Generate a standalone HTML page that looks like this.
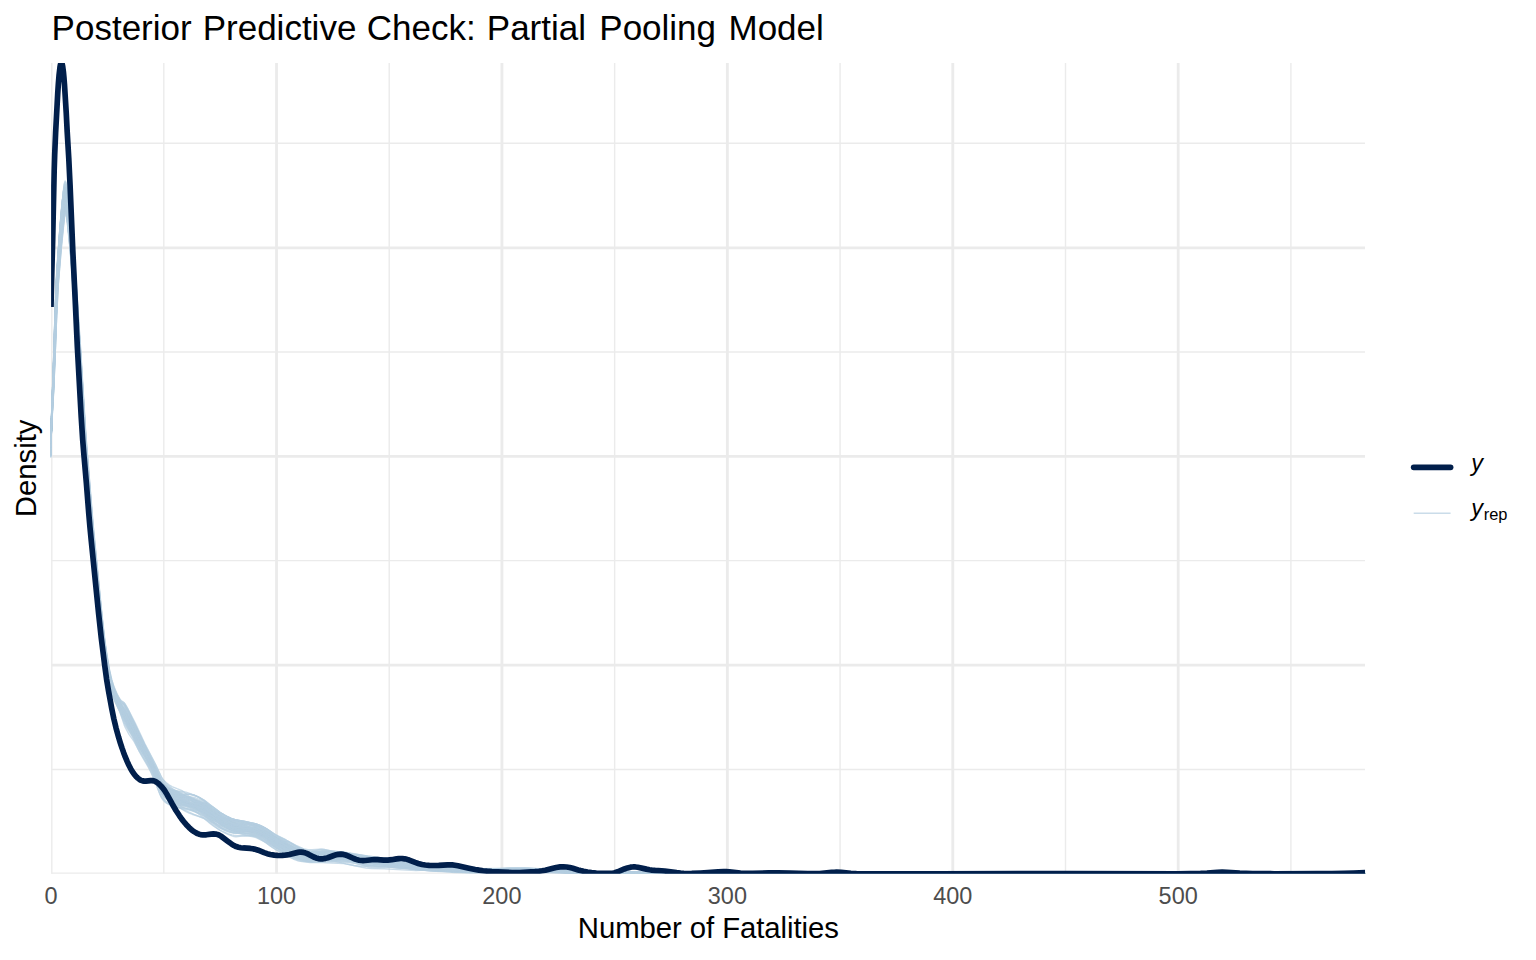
<!DOCTYPE html>
<html lang="en">
<head>
<meta charset="utf-8">
<title>Posterior Predictive Check: Partial Pooling Model</title>
<style>
html,body{margin:0;padding:0;background:#ffffff;}
body{width:1536px;height:960px;overflow:hidden;font-family:"Liberation Sans",sans-serif;}
svg{display:block;}
text{font-family:"Liberation Sans",sans-serif;}
</style>
</head>
<body>
<svg width="1536" height="960" viewBox="0 0 1536 960">
<defs>
<clipPath id="panel"><rect x="51.1" y="63.0" width="1314.0" height="810.8"/></clipPath>
<clipPath id="panelL"><rect x="50.0" y="63.0" width="1315.1" height="810.8"/></clipPath>
</defs>
<rect width="1536" height="960" fill="#ffffff"/>
<g clip-path="url(#panel)">
<g stroke="#ebebeb" fill="none">
<line x1="51.1" x2="1365.1" y1="769.50" y2="769.50" stroke-width="1.42"/>
<line x1="51.1" x2="1365.1" y1="560.60" y2="560.60" stroke-width="1.42"/>
<line x1="51.1" x2="1365.1" y1="352.00" y2="352.00" stroke-width="1.42"/>
<line x1="51.1" x2="1365.1" y1="143.30" y2="143.30" stroke-width="1.42"/>
<line y1="63.0" y2="873.8" x1="163.81" x2="163.81" stroke-width="1.42"/>
<line y1="63.0" y2="873.8" x1="389.23" x2="389.23" stroke-width="1.42"/>
<line y1="63.0" y2="873.8" x1="614.65" x2="614.65" stroke-width="1.42"/>
<line y1="63.0" y2="873.8" x1="840.07" x2="840.07" stroke-width="1.42"/>
<line y1="63.0" y2="873.8" x1="1065.49" x2="1065.49" stroke-width="1.42"/>
<line y1="63.0" y2="873.8" x1="1290.91" x2="1290.91" stroke-width="1.42"/>
<line x1="51.1" x2="1365.1" y1="873.80" y2="873.80" stroke-width="2.84"/>
<line x1="51.1" x2="1365.1" y1="665.20" y2="665.20" stroke-width="2.84"/>
<line x1="51.1" x2="1365.1" y1="456.30" y2="456.30" stroke-width="2.84"/>
<line x1="51.1" x2="1365.1" y1="247.80" y2="247.80" stroke-width="2.84"/>
<line y1="63.0" y2="873.8" x1="51.10" x2="51.10" stroke-width="2.84"/>
<line y1="63.0" y2="873.8" x1="276.52" x2="276.52" stroke-width="2.84"/>
<line y1="63.0" y2="873.8" x1="501.94" x2="501.94" stroke-width="2.84"/>
<line y1="63.0" y2="873.8" x1="727.36" x2="727.36" stroke-width="2.84"/>
<line y1="63.0" y2="873.8" x1="952.78" x2="952.78" stroke-width="2.84"/>
<line y1="63.0" y2="873.8" x1="1178.20" x2="1178.20" stroke-width="2.84"/>
</g>
</g>
<g clip-path="url(#panelL)" fill="none" stroke="#b3cde0" stroke-opacity="0.7" stroke-width="1.42" stroke-linejoin="round">
<path d="M50.8,451.9L51.7,416.2L53.5,374.7L55.6,312.3L57.1,277.6L60.1,235.8L62.2,210.9L64.0,194.6L64.6,191.8L65.2,190.8L65.5,190.9L66.1,192.2L66.7,195.3L67.9,206.2L70.6,234.4L73.0,263.2L78.7,349.4L84.1,438.1L91.3,526.9L98.8,603.0L102.7,639.5L104.8,654.6L107.5,671.0L109.9,682.1L112.0,689.5L115.0,697.3L120.0,707.2L122.0,710.7L129.0,721.3L133.0,728.4L141.0,746.0L145.0,754.1L153.0,769.5L161.0,786.6L162.0,788.1L164.0,790.4L168.0,794.2L172.0,797.6L176.0,800.7L179.0,802.7L182.0,804.2L184.0,805.0L186.0,805.5L193.0,806.1L196.0,806.6L199.0,807.6L202.0,809.1L204.0,810.4L206.0,812.1L212.0,817.9L214.0,819.6L218.0,822.4L222.0,824.3L238.0,828.6L248.0,831.7L256.0,832.9L260.0,833.8L264.0,835.2L266.0,836.2L270.0,838.9L278.0,845.6L284.0,849.7L290.0,853.1L296.0,855.3L308.0,858.9L312.0,859.7L314.0,859.9L318.0,859.8L330.0,858.4L334.0,858.1L338.0,858.2L342.0,858.7L352.0,860.9L356.0,861.4L360.0,861.6L366.0,861.5L370.0,861.6L374.0,862.0L384.0,863.6L388.0,863.9L400.0,863.4L404.0,863.5L408.0,864.1L418.0,866.4L422.0,867.0L438.0,867.6L454.0,869.2L470.0,869.4L482.0,870.2L488.0,870.4L494.0,870.3L504.0,869.5L508.0,869.5L522.0,870.2L538.0,870.5L556.0,871.9L574.0,872.1L592.0,872.9L612.0,872.9L624.0,873.1L636.0,873.0L660.0,873.4L672.0,873.3L696.0,873.5L708.0,873.4L756.0,873.6L840.0,873.3L1104.0,873.8L1236.0,873.7L1284.0,873.5L1365.4,873.7"/>
<path d="M50.8,451.3L51.7,415.1L53.8,360.0L55.6,303.7L56.8,276.7L59.5,238.6L61.6,213.2L63.4,196.7L64.0,194.0L64.6,192.9L64.9,193.0L65.5,194.3L65.8,195.5L67.3,208.2L69.7,232.6L72.1,260.4L78.1,349.2L83.5,437.2L89.5,511.7L91.3,531.8L100.0,618.8L102.7,642.2L105.4,660.2L107.5,672.1L110.2,683.6L113.0,692.1L115.0,697.0L120.0,707.6L133.0,732.9L139.0,745.5L142.0,750.9L152.0,767.9L155.0,773.6L160.0,783.9L161.0,785.6L162.0,786.8L164.0,788.8L167.0,791.1L171.0,793.9L183.0,801.2L187.0,803.1L198.0,807.2L202.0,808.8L206.0,811.1L214.0,816.3L222.0,820.5L232.0,824.9L248.0,831.4L258.0,834.4L266.0,837.3L276.0,842.2L286.0,845.8L298.0,850.8L308.0,854.7L312.0,855.7L316.0,856.1L330.0,856.2L338.0,855.9L344.0,856.2L348.0,856.8L354.0,857.9L372.0,862.5L380.0,864.1L386.0,864.6L390.0,864.6L402.0,863.2L408.0,863.1L416.0,864.2L436.0,867.8L444.0,868.9L450.0,869.4L456.0,869.7L470.0,869.7L488.0,870.5L496.0,870.7L516.0,870.0L528.0,869.4L534.0,869.4L544.0,869.9L556.0,871.3L564.0,871.9L584.0,872.6L624.0,873.2L648.0,872.9L672.0,872.9L696.0,873.4L720.0,873.2L756.0,873.4L780.0,873.2L828.0,873.5L852.0,873.3L876.0,873.5L912.0,873.3L936.0,873.6L1032.0,873.5L1068.0,873.8L1092.0,873.6L1188.0,873.7L1224.0,873.5L1308.0,873.7L1344.0,873.5L1365.4,873.6"/>
<path d="M50.8,449.7L51.7,413.0L53.8,357.9L55.6,301.4L56.8,273.8L59.8,231.0L61.9,205.8L63.7,189.5L64.6,186.9L64.9,186.8L65.2,187.2L65.8,188.9L66.1,190.6L67.6,204.5L70.3,233.5L72.4,258.8L78.1,344.6L83.5,433.6L91.0,526.6L98.5,602.9L102.4,639.2L104.5,653.9L107.2,670.1L109.6,681.0L112.0,688.9L115.0,696.2L120.0,705.7L121.0,707.1L125.0,711.8L131.0,721.8L143.0,746.4L154.0,767.0L161.0,781.0L163.0,783.5L167.0,787.2L170.0,789.7L174.0,792.4L178.0,794.8L181.0,796.3L185.0,797.7L192.0,799.4L196.0,800.6L199.0,801.8L202.0,803.3L206.0,806.2L212.0,811.3L214.0,812.8L218.0,815.4L222.0,817.6L230.0,820.8L234.0,822.2L246.0,825.4L258.0,827.5L264.0,829.6L268.0,831.7L278.0,838.8L290.0,845.4L298.0,849.1L308.0,853.0L310.0,853.6L314.0,854.0L324.0,853.5L338.0,854.3L342.0,854.8L350.0,856.2L358.0,857.4L368.0,858.4L382.0,860.4L388.0,860.8L400.0,860.8L404.0,861.1L408.0,861.8L418.0,864.3L424.0,865.4L436.0,866.9L452.0,868.4L468.0,868.8L478.0,869.4L486.0,869.7L494.0,869.5L508.0,868.8L530.0,869.0L540.0,869.6L558.0,871.1L590.0,872.1L624.0,872.5L636.0,872.4L684.0,872.9L792.0,873.2L1365.4,873.6"/>
<path d="M50.8,454.7L51.4,427.8L53.5,379.1L55.6,317.6L57.1,283.8L60.1,243.7L62.2,220.5L64.3,204.2L64.6,203.3L65.2,202.5L65.5,202.5L65.8,203.0L66.4,204.6L66.7,206.1L68.8,224.3L70.9,245.2L73.0,269.1L79.0,356.3L84.4,442.6L91.9,533.0L99.4,607.7L103.3,643.1L105.4,657.5L108.1,673.2L110.5,683.7L113.0,691.9L116.0,699.2L124.0,715.9L134.0,734.5L140.0,746.9L152.0,766.8L156.0,774.7L161.0,785.7L163.0,788.8L166.0,791.9L170.0,795.1L175.0,798.0L180.0,800.0L190.0,803.5L193.0,804.8L196.0,806.5L200.0,809.0L204.0,811.8L212.0,818.3L218.0,821.9L222.0,823.9L232.0,828.7L238.0,831.0L246.0,833.4L254.0,835.0L258.0,836.3L262.0,838.3L266.0,840.7L274.0,846.6L278.0,848.9L298.0,857.8L306.0,860.9L310.0,861.9L312.0,862.2L328.0,861.6L344.0,862.3L356.0,863.3L366.0,864.7L374.0,866.1L378.0,866.5L386.0,866.8L398.0,866.6L404.0,866.8L426.0,868.5L442.0,870.6L448.0,871.2L454.0,871.4L466.0,871.5L480.0,871.9L504.0,871.4L516.0,871.3L528.0,870.8L532.0,870.7L554.0,871.8L582.0,872.8L636.0,873.1L696.0,873.8L984.0,873.6L1128.0,873.9L1365.4,873.8"/>
<path d="M50.8,454.7L51.4,427.9L53.5,383.5L55.9,316.5L57.4,283.9L60.4,244.9L62.5,222.1L64.6,205.5L65.2,203.5L65.8,202.7L66.1,202.9L66.7,204.2L67.3,207.3L69.1,222.7L71.5,246.6L73.6,270.8L79.3,354.0L84.7,441.0L91.0,519.1L92.5,535.8L99.7,608.2L103.6,643.9L105.7,658.4L108.4,674.1L110.8,684.7L113.0,691.9L116.0,699.3L124.0,715.4L134.0,733.0L139.0,743.4L141.0,747.1L150.0,762.4L153.0,768.1L156.0,774.4L161.0,786.3L162.0,788.2L165.0,792.4L168.0,795.6L170.0,797.4L174.0,800.4L178.0,802.4L183.0,804.1L191.0,806.1L196.0,808.2L202.0,811.8L210.0,817.9L214.0,820.6L220.0,823.7L232.0,828.6L236.0,829.8L240.0,830.6L246.0,831.2L252.0,831.2L256.0,831.5L260.0,832.7L262.0,833.6L266.0,835.8L274.0,841.8L278.0,844.4L298.0,854.5L306.0,857.8L310.0,858.7L312.0,858.8L314.0,858.7L324.0,857.5L330.0,857.7L348.0,859.6L358.0,860.5L366.0,861.5L378.0,863.5L396.0,864.4L402.0,865.3L412.0,867.5L416.0,868.1L440.0,870.6L448.0,871.1L466.0,871.2L478.0,871.8L486.0,871.7L504.0,870.9L516.0,871.0L528.0,870.8L550.0,872.2L568.0,872.4L582.0,872.8L612.0,873.1L636.0,873.0L648.0,873.2L684.0,873.5L732.0,873.3L888.0,873.8L972.0,873.6L1365.4,873.9"/>
<path d="M50.8,452.2L51.4,424.8L53.8,358.7L55.3,309.8L56.5,280.8L59.2,241.3L61.3,215.4L63.1,198.7L63.7,195.9L64.3,194.9L64.6,195.0L65.5,197.5L67.0,210.4L69.4,235.0L71.8,263.2L77.5,348.9L83.2,443.0L90.4,532.7L97.6,605.7L101.5,641.6L103.6,656.2L106.3,671.9L108.7,682.3L110.8,689.2L114.0,696.8L119.0,705.9L121.0,709.1L125.0,714.2L129.0,720.9L132.0,726.4L139.0,741.2L149.0,760.5L152.0,766.6L155.0,773.2L160.0,785.0L162.0,788.3L165.0,791.5L168.0,793.6L171.0,795.0L174.0,795.9L181.0,797.2L185.0,798.2L188.0,799.2L191.0,800.5L195.0,802.9L200.0,806.3L204.0,809.3L210.0,814.4L214.0,817.4L220.0,820.9L224.0,822.6L228.0,823.8L232.0,824.5L236.0,824.4L244.0,823.5L248.0,823.4L252.0,823.8L256.0,825.0L258.0,825.9L262.0,828.5L266.0,831.5L274.0,838.5L278.0,841.4L290.0,847.9L296.0,850.8L300.0,852.2L306.0,853.7L310.0,854.2L318.0,854.0L322.0,854.2L324.0,854.6L332.0,856.7L338.0,857.6L344.0,857.9L356.0,857.8L364.0,858.0L376.0,859.0L386.0,860.7L402.0,864.9L410.0,866.3L426.0,867.4L440.0,868.9L452.0,870.0L462.0,870.7L470.0,871.0L478.0,871.0L494.0,869.9L504.0,869.8L538.0,871.4L560.0,871.5L578.0,872.3L586.0,872.5L624.0,872.3L648.0,873.0L660.0,873.1L684.0,872.9L708.0,873.1L744.0,873.0L780.0,873.5L804.0,873.3L864.0,873.4L900.0,873.7L936.0,873.4L1020.0,873.7L1056.0,873.4L1092.0,873.6L1152.0,873.7L1176.0,873.4L1212.0,873.7L1308.0,873.6L1332.0,873.8L1365.4,873.7"/>
<path d="M50.8,451.8L51.1,434.6L51.7,417.1L52.9,398.2L53.8,380.0L56.5,308.9L58.0,277.7L61.0,239.4L63.4,213.0L65.5,195.4L66.1,193.0L66.7,192.2L67.0,192.4L67.6,193.7L68.2,196.6L69.4,207.3L72.1,234.5L74.5,262.5L80.5,352.5L85.9,441.4L93.4,534.1L100.6,606.7L104.5,642.5L106.6,657.0L109.3,672.8L111.7,683.4L114.0,691.0L117.0,698.3L134.0,732.9L141.0,748.9L152.0,769.9L156.0,779.1L161.0,791.8L162.0,793.8L163.0,795.3L165.0,797.6L168.0,799.8L170.0,800.8L172.0,801.5L175.0,802.1L181.0,802.7L185.0,803.3L189.0,804.5L192.0,805.9L196.0,808.6L200.0,811.8L204.0,815.3L212.0,822.9L218.0,826.9L222.0,828.8L228.0,830.7L232.0,831.5L236.0,831.6L244.0,831.0L248.0,831.0L252.0,831.3L256.0,832.3L258.0,833.2L262.0,835.7L266.0,838.7L274.0,845.4L276.0,846.8L280.0,848.8L290.0,852.5L298.0,854.6L308.0,856.2L312.0,856.4L318.0,856.3L322.0,856.6L334.0,859.8L340.0,860.7L348.0,861.2L364.0,860.9L372.0,861.3L384.0,862.7L398.0,865.1L404.0,865.9L410.0,866.3L422.0,866.1L428.0,866.3L452.0,869.8L464.0,870.9L470.0,871.3L476.0,871.4L494.0,870.2L504.0,870.1L520.0,871.0L538.0,871.6L560.0,872.0L578.0,873.3L586.0,873.6L596.0,873.6L624.0,873.1L648.0,873.6L684.0,873.3L708.0,873.7L744.0,873.3L780.0,873.6L804.0,873.3L840.0,873.6L864.0,873.3L900.0,873.6L936.0,873.5L960.0,873.8L996.0,873.6L1020.0,873.9L1056.0,873.7L1092.0,873.9L1116.0,873.7L1152.0,873.9L1176.0,873.7L1212.0,873.8L1236.0,873.6L1272.0,873.8L1308.0,873.6L1332.0,873.8L1365.4,873.7"/>
<path d="M50.8,453.6L51.4,426.5L53.8,369.8L55.9,308.2L57.1,282.1L60.1,241.7L62.5,214.8L64.3,199.9L65.2,197.3L65.5,197.1L66.1,197.8L66.7,199.8L67.0,201.8L69.1,220.1L71.5,244.3L73.3,265.1L79.0,348.4L84.7,440.4L92.2,531.7L99.4,603.8L102.1,629.5L103.6,642.0L105.7,656.3L108.4,672.0L110.8,682.5L113.0,689.7L116.0,697.3L121.0,707.6L128.0,721.3L134.0,732.2L140.0,744.6L151.0,765.4L155.0,774.2L161.0,789.2L163.0,792.4L166.0,795.6L169.0,797.8L173.0,799.9L199.0,810.3L204.0,812.6L208.0,815.1L220.0,823.1L224.0,825.4L228.0,827.3L232.0,828.8L234.0,829.2L244.0,830.0L248.0,830.5L252.0,831.2L256.0,832.3L260.0,834.0L266.0,837.0L276.0,842.9L284.0,846.7L294.0,852.1L298.0,853.8L302.0,854.9L308.0,855.9L312.0,856.0L318.0,855.7L322.0,855.7L332.0,857.1L342.0,857.7L346.0,858.1L352.0,859.2L362.0,861.8L368.0,862.9L374.0,863.6L384.0,864.5L396.0,866.0L416.0,867.3L430.0,868.9L436.0,869.4L474.0,870.9L496.0,870.8L510.0,870.3L526.0,870.2L550.0,871.2L572.0,872.4L600.0,873.2L612.0,873.2L684.0,873.2L840.0,873.6L924.0,873.5L1080.0,873.7L1365.4,873.7"/>
<path d="M50.8,453.3L51.4,426.2L53.8,368.8L55.9,306.8L57.1,280.8L60.1,240.0L62.2,215.8L64.0,200.1L64.3,198.5L64.9,196.9L65.2,196.5L65.5,196.6L65.8,197.0L66.4,198.8L66.7,200.7L68.8,219.1L71.2,243.7L73.0,264.9L78.7,349.5L84.1,438.4L91.6,531.4L98.8,604.2L102.7,640.2L104.8,654.9L107.5,670.8L109.9,681.6L112.0,688.7L115.0,696.3L119.0,704.3L121.0,707.9L125.0,714.0L133.0,727.4L148.0,758.1L151.0,764.6L154.0,771.7L161.0,790.2L162.0,792.1L164.0,795.0L167.0,798.3L171.0,801.5L174.0,803.3L177.0,804.7L185.0,808.1L199.0,812.8L204.0,814.9L208.0,817.6L220.0,826.9L224.0,829.5L228.0,831.5L232.0,832.8L234.0,833.1L244.0,833.1L252.0,833.7L256.0,834.7L258.0,835.5L262.0,837.5L268.0,841.2L276.0,847.2L290.0,857.1L294.0,859.3L298.0,860.9L302.0,861.5L306.0,861.6L310.0,861.3L318.0,859.6L322.0,859.0L340.0,858.6L344.0,858.7L350.0,859.3L362.0,861.2L368.0,861.5L378.0,861.4L384.0,861.9L404.0,865.4L422.0,867.8L430.0,868.5L450.0,868.6L468.0,869.9L478.0,870.3L496.0,870.3L508.0,869.8L514.0,869.9L524.0,870.3L540.0,871.5L578.0,872.2L600.0,873.2L612.0,873.3L660.0,873.8L696.0,873.5L732.0,873.7L780.0,873.6L816.0,873.3L864.0,873.5L936.0,873.4L972.0,873.7L1092.0,873.9L1188.0,873.7L1224.0,873.8L1260.0,873.6L1344.0,873.8L1365.4,873.7"/>
<path d="M50.8,454.8L51.4,428.1L53.8,381.1L56.2,316.3L57.7,285.4L60.7,248.1L62.8,226.2L65.2,208.0L66.1,205.8L66.4,205.6L66.7,205.9L67.3,207.3L67.6,208.6L69.7,225.7L72.1,249.5L74.2,273.7L79.9,356.7L85.3,443.2L91.6,519.9L93.1,536.3L101.8,620.9L104.5,644.0L106.9,659.9L109.3,673.5L111.7,683.9L114.0,691.3L117.0,698.7L124.0,713.2L135.0,733.2L141.0,746.0L151.0,765.3L156.0,776.6L162.0,791.7L163.0,793.3L165.0,795.9L168.0,798.9L171.0,801.5L176.0,805.2L183.0,809.9L186.0,811.7L189.0,813.1L192.0,814.2L204.0,818.0L212.0,822.1L218.0,824.7L222.0,826.0L228.0,827.2L232.0,827.7L240.0,827.9L244.0,828.5L250.0,830.1L256.0,832.1L260.0,834.0L266.0,837.4L276.0,844.6L290.0,853.7L296.0,857.1L300.0,858.7L308.0,860.9L310.0,861.2L314.0,861.5L326.0,861.1L342.0,859.2L346.0,859.1L350.0,859.4L354.0,859.8L372.0,863.0L388.0,866.5L394.0,867.6L398.0,868.0L412.0,869.0L428.0,870.6L436.0,870.9L454.0,871.0L470.0,870.5L482.0,870.5L564.0,872.9L600.0,873.0L636.0,873.6L720.0,873.3L768.0,873.9L816.0,873.5L876.0,873.9L924.0,873.5L1008.0,873.9L1056.0,873.6L1116.0,873.9L1164.0,873.7L1200.0,873.9L1248.0,873.9L1284.0,873.7L1320.0,873.9L1365.4,873.8"/>
<path d="M50.8,452.1L51.7,416.9L53.5,378.1L55.9,309.3L57.4,276.7L60.4,235.8L62.8,208.0L64.6,192.7L64.9,191.6L65.5,190.4L65.8,190.5L66.1,190.9L66.7,192.7L67.0,194.7L68.8,211.0L71.2,236.0L73.3,261.3L79.0,348.4L84.4,438.7L90.4,515.0L91.9,532.0L100.3,616.1L103.3,642.4L106.0,660.4L108.1,672.3L110.5,682.8L113.0,690.9L116.0,698.4L122.0,710.7L126.0,717.7L134.0,730.1L142.0,745.7L151.0,764.0L161.0,786.4L162.0,787.8L164.0,789.8L167.0,791.7L174.0,794.9L177.0,796.5L185.0,801.8L189.0,804.2L193.0,806.0L200.0,808.3L204.0,810.0L206.0,811.3L208.0,812.9L220.0,824.3L222.0,825.9L226.0,828.1L230.0,829.3L232.0,829.6L240.0,829.4L244.0,829.8L248.0,830.7L254.0,832.5L266.0,836.7L270.0,838.3L278.0,842.6L284.0,846.2L290.0,850.4L294.0,852.4L296.0,853.1L300.0,854.0L318.0,856.1L328.0,857.8L332.0,858.0L340.0,857.6L344.0,857.8L348.0,858.6L358.0,861.5L362.0,862.3L366.0,862.4L374.0,861.9L378.0,861.9L382.0,862.4L390.0,863.9L394.0,864.5L398.0,864.7L406.0,864.3L410.0,864.5L416.0,865.5L426.0,867.8L430.0,868.4L434.0,868.7L446.0,869.0L458.0,870.4L464.0,870.7L482.0,870.3L496.0,870.4L510.0,869.2L516.0,869.1L534.0,870.1L546.0,870.3L566.0,872.1L582.0,872.4L596.0,873.0L612.0,872.8L648.0,873.0L660.0,873.2L684.0,873.3L696.0,873.5L756.0,873.3L768.0,873.5L804.0,873.6L852.0,873.4L960.0,873.4L1140.0,873.8L1365.4,873.6"/>
<path d="M50.8,449.0L51.7,412.7L53.8,364.8L56.2,295.5L57.4,270.5L60.4,229.8L62.8,201.8L64.6,186.5L64.9,185.4L65.5,184.3L65.8,184.3L66.1,184.9L66.7,186.9L67.0,188.8L68.5,202.8L71.2,231.5L73.3,256.7L79.0,343.1L84.7,437.8L91.6,524.7L98.8,598.9L102.7,636.3L104.5,649.9L106.9,665.3L108.4,673.6L110.5,683.0L113.0,691.4L115.0,696.7L123.0,713.5L126.0,718.7L133.0,729.1L135.0,732.4L150.0,759.8L155.0,769.8L161.0,783.2L163.0,786.1L165.0,788.2L167.0,790.0L172.0,793.4L184.0,800.4L197.0,806.7L202.0,809.5L206.0,812.5L214.0,819.9L220.0,824.9L224.0,827.4L228.0,829.3L230.0,830.0L232.0,830.5L236.0,830.7L252.0,829.9L256.0,829.9L260.0,830.4L266.0,831.9L270.0,833.6L282.0,840.1L286.0,842.4L294.0,847.5L298.0,849.7L306.0,852.7L310.0,853.8L322.0,855.1L332.0,856.9L344.0,858.2L358.0,860.8L362.0,861.2L366.0,861.2L376.0,860.5L382.0,860.3L392.0,860.5L402.0,861.2L408.0,862.1L424.0,866.3L432.0,867.8L438.0,868.5L460.0,870.1L472.0,870.3L480.0,870.2L494.0,869.5L508.0,868.2L516.0,868.1L528.0,868.8L552.0,871.5L560.0,872.2L570.0,872.6L596.0,873.0L636.0,872.6L672.0,873.3L744.0,873.0L804.0,873.6L852.0,873.2L912.0,873.5L960.0,873.4L1032.0,873.8L1092.0,873.5L1140.0,873.7L1200.0,873.5L1272.0,873.7L1320.0,873.4L1365.4,873.7"/>
<path d="M50.8,452.0L51.7,416.1L53.8,363.9L55.6,308.6L56.8,280.7L59.8,238.7L61.9,213.9L64.0,196.1L64.3,195.0L64.9,193.9L65.2,193.8L65.5,194.3L66.1,196.0L66.4,197.7L68.2,213.7L70.6,238.2L72.7,262.5L78.4,346.4L84.1,438.7L91.6,530.5L98.8,603.3L102.7,639.3L104.8,653.9L107.5,669.9L109.9,680.6L112.0,687.6L115.0,695.1L119.0,702.8L121.0,706.1L124.0,709.9L125.0,711.4L132.0,724.9L140.0,742.2L150.0,761.6L153.0,767.8L156.0,774.5L161.0,786.7L162.0,788.4L164.0,791.2L167.0,794.3L171.0,797.5L175.0,799.6L180.0,801.6L191.0,805.0L198.0,808.1L204.0,811.5L212.0,817.1L218.0,820.6L222.0,822.7L230.0,826.1L232.0,826.8L236.0,827.7L252.0,829.6L256.0,830.5L258.0,831.2L262.0,833.3L266.0,835.8L274.0,841.9L278.0,844.4L294.0,852.7L300.0,855.2L306.0,856.8L310.0,857.3L314.0,857.1L320.0,856.3L324.0,856.2L334.0,857.2L348.0,858.3L356.0,859.2L376.0,862.6L392.0,864.3L408.0,866.3L414.0,866.9L440.0,868.8L478.0,870.2L506.0,869.7L528.0,869.9L544.0,870.7L578.0,872.2L612.0,873.0L648.0,873.2L696.0,873.2L780.0,873.5L936.0,873.4L1092.0,873.7L1176.0,873.6L1224.0,873.8L1365.4,873.6"/>
<path d="M50.8,455.7L51.4,429.2L53.5,391.0L55.0,355.5L56.5,313.6L58.0,284.4L61.0,248.0L63.4,224.1L65.5,208.7L66.4,206.6L66.7,206.5L67.0,206.9L67.6,208.3L67.9,209.9L70.0,226.9L72.4,250.4L74.5,274.6L80.2,357.8L85.6,444.9L91.6,519.6L93.4,539.5L101.5,620.1L104.5,646.2L106.9,662.0L109.3,675.4L111.7,685.6L114.0,692.8L116.0,697.9L120.0,706.4L124.0,716.0L127.0,722.2L130.0,727.8L135.0,736.2L140.0,745.8L150.0,762.4L152.0,766.3L155.0,772.7L161.0,787.6L162.0,789.7L164.0,792.6L166.0,794.8L169.0,797.1L172.0,798.6L175.0,799.6L184.0,801.7L188.0,803.1L191.0,804.4L204.0,811.7L212.0,816.8L226.0,825.2L230.0,827.5L232.0,828.4L234.0,829.0L238.0,829.6L248.0,830.0L252.0,830.4L256.0,831.4L258.0,832.3L266.0,837.2L274.0,842.6L278.0,844.5L286.0,847.8L296.0,853.4L300.0,855.2L304.0,856.3L308.0,856.9L312.0,856.8L318.0,855.9L322.0,855.6L326.0,856.1L332.0,857.3L336.0,857.8L352.0,858.4L356.0,858.9L366.0,861.3L372.0,862.4L388.0,863.4L392.0,863.9L404.0,866.1L422.0,867.9L438.0,870.4L444.0,870.8L456.0,871.2L470.0,872.2L476.0,872.4L490.0,872.0L512.0,871.7L526.0,871.2L540.0,871.9L558.0,872.1L578.0,872.8L708.0,873.4L792.0,873.4L888.0,873.8L1032.0,873.6L1365.4,873.9"/>
<path d="M50.8,453.6L51.4,426.6L53.8,377.9L56.2,311.9L57.7,280.6L60.7,241.7L63.1,215.3L65.2,198.3L66.1,196.1L66.4,196.1L66.7,196.5L67.3,198.1L67.6,199.7L69.7,217.8L72.1,242.0L74.2,266.6L79.9,351.3L85.3,439.4L92.8,531.4L100.0,603.8L103.9,639.6L106.0,654.3L108.7,670.3L110.8,679.9L113.0,687.5L115.0,692.9L118.0,699.4L121.0,705.0L125.0,711.2L134.0,727.4L140.0,739.7L150.0,759.3L155.0,770.0L161.0,784.3L163.0,787.7L165.0,790.0L168.0,792.5L172.0,794.8L191.0,802.3L198.0,805.6L202.0,807.7L206.0,810.4L222.0,824.3L226.0,827.1L230.0,829.5L234.0,831.1L250.0,834.3L256.0,836.0L260.0,837.9L266.0,841.2L276.0,847.6L284.0,851.8L290.0,855.1L296.0,857.7L300.0,858.6L306.0,859.0L310.0,858.8L318.0,857.4L322.0,857.0L332.0,857.4L344.0,857.6L352.0,858.5L360.0,860.1L364.0,860.7L370.0,861.1L384.0,861.7L398.0,863.2L410.0,864.3L434.0,867.7L448.0,868.7L466.0,870.4L478.0,871.0L496.0,870.9L510.0,870.1L526.0,869.9L552.0,870.6L600.0,872.8L672.0,873.5L708.0,873.7L792.0,873.3L876.0,873.5L1008.0,873.5L1104.0,873.9L1236.0,873.6L1320.0,873.7L1365.4,873.6"/>
<path d="M50.8,450.4L51.7,414.8L53.5,377.7L55.9,310.8L57.4,277.7L60.4,238.2L62.5,214.5L64.6,196.5L65.2,193.8L65.8,192.8L66.1,192.8L66.7,194.0L67.3,196.7L68.5,207.1L71.2,233.7L73.9,264.8L79.6,348.8L85.0,436.6L91.3,515.7L92.8,532.4L101.2,617.2L104.2,643.6L106.9,661.5L109.0,673.2L111.4,683.4L114.0,691.4L117.0,698.4L134.0,731.2L139.0,741.5L142.0,746.9L150.0,760.6L153.0,766.4L156.0,772.9L161.0,785.2L162.0,787.2L165.0,791.5L169.0,795.5L172.0,797.7L176.0,799.7L189.0,803.8L193.0,805.4L204.0,810.9L212.0,815.5L232.0,825.2L236.0,826.4L240.0,827.0L250.0,827.5L254.0,827.9L256.0,828.3L260.0,829.9L266.0,833.2L274.0,838.7L276.0,839.9L286.0,844.4L298.0,851.9L302.0,854.0L306.0,855.7L310.0,856.6L312.0,856.7L320.0,855.8L324.0,855.8L336.0,857.5L354.0,858.9L358.0,859.7L368.0,862.1L374.0,863.1L378.0,863.4L390.0,863.2L396.0,863.6L412.0,865.5L424.0,866.7L436.0,868.4L442.0,869.0L462.0,869.1L478.0,870.0L492.0,869.8L526.0,869.5L530.0,869.7L548.0,871.4L578.0,872.6L594.0,872.6L612.0,873.0L636.0,872.8L780.0,873.5L840.0,873.4L996.0,873.6L1080.0,873.5L1224.0,873.7L1308.0,873.6L1365.4,873.7"/>
<path d="M50.8,455.1L51.4,428.5L53.8,381.2L56.2,316.2L57.7,285.1L60.7,247.1L63.1,221.6L65.2,205.0L66.1,202.6L66.4,202.4L67.0,203.1L67.6,205.3L67.9,207.5L70.3,228.0L72.4,249.4L74.2,270.5L79.9,355.2L85.3,443.7L92.8,535.7L100.0,606.8L103.9,641.9L106.0,656.1L108.7,671.7L110.8,681.0L113.0,688.6L116.0,696.2L121.0,705.8L134.0,725.2L137.0,730.3L142.0,739.8L150.0,756.0L155.0,766.9L161.0,781.3L162.0,783.2L163.0,784.6L165.0,786.7L167.0,788.2L170.0,789.6L177.0,791.5L181.0,793.1L186.0,795.9L195.0,801.5L204.0,806.3L206.0,807.6L210.0,810.7L222.0,821.2L226.0,823.8L228.0,824.8L230.0,825.5L232.0,825.9L234.0,825.9L242.0,824.6L246.0,824.5L250.0,825.2L252.0,825.8L256.0,827.6L266.0,834.0L274.0,839.7L282.0,845.1L286.0,848.2L290.0,851.6L294.0,854.6L298.0,856.7L300.0,857.3L302.0,857.6L306.0,858.0L310.0,858.1L316.0,857.8L320.0,858.0L328.0,859.8L332.0,860.3L336.0,860.4L344.0,859.9L348.0,859.9L352.0,860.3L360.0,861.9L364.0,862.3L368.0,862.2L378.0,861.5L382.0,861.7L386.0,862.5L396.0,865.7L400.0,866.7L404.0,867.3L416.0,868.4L428.0,870.4L434.0,870.9L450.0,871.0L466.0,872.2L474.0,872.1L488.0,871.1L498.0,870.9L510.0,870.2L516.0,870.2L522.0,870.4L534.0,871.4L538.0,871.5L552.0,871.2L568.0,871.7L586.0,871.8L600.0,872.2L624.0,872.0L636.0,872.5L672.0,873.3L684.0,873.1L708.0,873.4L756.0,873.4L780.0,873.8L828.0,873.5L900.0,873.9L936.0,873.5L1056.0,873.3L1140.0,873.8L1188.0,873.7L1212.0,873.9L1296.0,873.7L1344.0,873.9L1365.4,873.7"/>
<path d="M50.8,452.8L51.4,425.7L53.8,365.1L55.6,309.8L56.8,282.1L59.8,240.1L61.9,215.4L63.7,199.6L64.3,197.2L64.9,196.3L65.2,196.6L65.8,197.9L66.1,199.1L67.9,214.4L70.3,238.5L72.7,266.5L78.4,351.5L83.8,440.1L91.3,532.9L98.5,606.2L102.4,642.2L104.5,656.8L107.2,672.7L109.6,683.4L112.0,691.3L115.0,698.8L124.0,716.7L127.0,721.7L134.0,732.5L138.0,740.0L150.0,761.1L155.0,771.5L161.0,785.7L164.0,790.1L168.0,794.1L172.0,797.1L178.0,800.3L184.0,803.0L197.0,808.1L204.0,811.5L208.0,814.3L222.0,825.0L226.0,827.5L230.0,829.7L234.0,831.1L238.0,831.7L252.0,832.0L256.0,832.3L258.0,832.7L262.0,834.1L268.0,836.9L276.0,841.8L284.0,846.4L290.0,850.5L296.0,854.3L300.0,856.2L302.0,856.8L306.0,857.9L310.0,858.4L314.0,858.1L320.0,857.4L324.0,857.3L342.0,858.3L350.0,859.4L362.0,861.9L366.0,862.3L372.0,862.5L386.0,862.1L394.0,862.6L404.0,863.9L424.0,867.9L434.0,869.3L478.0,871.1L492.0,870.8L510.0,869.7L520.0,869.6L528.0,869.8L548.0,871.6L562.0,872.2L600.0,872.9L612.0,873.0L636.0,872.9L672.0,873.5L720.0,873.3L912.0,873.6L960.0,873.5L1116.0,873.8L1200.0,873.6L1365.4,873.8"/>
<path d="M50.8,451.6L51.7,416.8L53.8,377.2L56.2,312.3L57.7,280.1L60.7,241.7L63.1,216.0L65.2,199.4L65.8,197.5L66.4,196.9L66.7,197.3L67.6,200.0L69.4,215.6L71.8,239.9L74.2,267.9L79.9,352.5L85.3,440.2L92.8,532.0L100.0,604.0L102.7,629.7L104.2,642.1L106.3,656.4L109.0,672.0L111.4,682.3L114.0,690.5L117.0,697.6L125.0,713.3L140.0,746.0L143.0,751.4L152.0,766.4L156.0,774.0L161.0,784.4L162.0,786.0L164.0,788.1L167.0,790.2L170.0,791.6L182.0,795.0L186.0,796.6L189.0,798.1L194.0,801.3L210.0,813.2L214.0,815.5L220.0,818.0L232.0,822.2L244.0,825.4L252.0,828.2L256.0,830.1L258.0,831.2L272.0,841.2L276.0,843.4L280.0,844.7L286.0,846.0L292.0,847.9L308.0,853.8L312.0,854.6L322.0,855.4L330.0,857.0L334.0,857.6L340.0,857.7L354.0,857.1L358.0,857.4L366.0,858.9L378.0,862.1L386.0,863.5L396.0,864.3L414.0,864.2L420.0,864.5L426.0,865.2L440.0,868.5L448.0,869.8L456.0,870.5L470.0,870.8L478.0,870.9L492.0,870.6L514.0,871.3L530.0,870.5L542.0,870.4L554.0,870.9L572.0,872.3L580.0,872.7L600.0,872.5L648.0,872.9L672.0,872.7L708.0,873.4L732.0,873.1L756.0,873.4L792.0,873.2L828.0,873.5L864.0,873.4L888.0,873.6L924.0,873.5L948.0,873.7L984.0,873.5L1020.0,873.6L1044.0,873.4L1080.0,873.7L1104.0,873.5L1140.0,873.7L1176.0,873.6L1200.0,873.7L1236.0,873.5L1260.0,873.7L1284.0,873.6L1320.0,873.8L1365.4,873.7"/>
<path d="M50.8,456.8L51.4,430.1L53.8,367.6L55.6,311.5L56.8,284.6L59.5,246.5L61.6,221.3L63.7,203.6L64.0,202.6L64.6,201.6L64.9,201.7L65.2,202.2L65.8,203.9L66.1,205.6L68.2,223.8L70.3,244.8L72.4,269.2L78.1,353.4L83.8,445.9L91.3,537.5L98.5,610.0L102.4,645.7L104.5,660.2L107.2,675.8L109.6,686.3L112.0,694.3L115.0,701.8L120.0,712.2L124.0,722.6L125.0,724.6L128.0,729.7L133.0,737.4L140.0,751.1L150.0,768.0L154.0,776.1L161.0,792.3L162.0,793.7L164.0,795.9L166.0,797.5L168.0,798.7L172.0,800.4L176.0,801.4L189.0,803.3L192.0,804.2L196.0,806.0L200.0,808.6L204.0,811.9L212.0,820.1L218.0,825.3L222.0,828.1L228.0,831.1L232.0,832.5L236.0,833.2L242.0,833.4L252.0,833.4L256.0,833.7L258.0,834.3L262.0,835.9L266.0,838.1L276.0,845.3L280.0,847.6L290.0,852.3L296.0,854.6L300.0,855.7L310.0,857.7L320.0,858.0L324.0,858.6L346.0,863.9L354.0,865.5L360.0,866.3L386.0,866.8L396.0,867.6L412.0,869.2L434.0,870.4L454.0,872.5L476.0,873.2L486.0,873.1L502.0,871.6L510.0,871.3L530.0,871.5L566.0,872.7L584.0,873.6L592.0,873.7L636.0,872.9L660.0,873.4L720.0,873.8L744.0,873.5L792.0,873.9L828.0,873.9L876.0,873.7L912.0,873.9L996.0,873.6L1032.0,873.9L1116.0,873.7L1152.0,873.9L1365.4,873.9"/>
<path d="M50.8,453.3L51.7,418.4L53.5,380.1L55.9,312.0L57.4,279.6L60.4,240.0L62.5,216.5L64.6,199.4L64.9,198.4L65.5,197.2L65.8,197.1L66.1,197.5L66.7,199.0L67.0,200.4L69.1,218.8L71.5,243.3L73.6,268.1L79.3,352.3L84.7,439.6L92.2,531.1L100.9,618.2L103.6,642.2L105.7,656.7L108.4,672.5L110.8,683.1L113.0,690.4L115.0,695.5L117.0,699.9L122.0,709.8L133.0,730.5L141.0,747.3L150.0,763.3L153.0,769.0L156.0,775.2L161.0,786.5L163.0,789.5L165.0,791.7L167.0,793.4L172.0,797.0L177.0,799.6L183.0,802.0L192.0,804.7L196.0,806.4L199.0,807.9L204.0,811.0L212.0,817.4L218.0,821.1L222.0,823.0L230.0,826.3L234.0,827.7L246.0,830.7L254.0,832.1L258.0,833.2L262.0,834.9L266.0,837.0L274.0,842.5L276.0,843.7L280.0,845.7L296.0,852.3L306.0,855.7L310.0,856.7L312.0,856.9L324.0,856.5L340.0,857.7L356.0,859.7L366.0,861.3L376.0,863.2L382.0,864.1L388.0,864.5L404.0,865.0L448.0,870.0L454.0,870.4L468.0,870.7L480.0,871.2L490.0,871.1L506.0,870.6L518.0,870.6L530.0,870.3L540.0,870.6L558.0,871.7L586.0,872.8L624.0,873.1L672.0,873.1L696.0,873.4L1068.0,873.7L1365.4,873.7"/>
<path d="M50.8,450.9L51.7,414.5L53.8,357.5L55.3,309.4L56.5,280.9L59.5,238.6L61.6,214.2L63.4,198.9L63.7,197.7L64.3,196.6L64.6,196.5L64.9,197.0L65.5,198.6L65.8,200.1L67.9,218.8L70.3,243.5L72.4,268.3L78.1,352.4L83.5,439.7L91.0,531.1L99.7,618.0L102.4,641.7L104.8,658.0L107.2,671.9L109.6,682.5L112.0,690.4L115.0,697.9L124.0,716.3L128.0,723.3L133.0,731.1L138.0,739.9L149.0,757.8L155.0,769.1L161.0,782.0L164.0,786.0L167.0,789.1L170.0,791.8L183.0,801.6L189.0,805.2L195.0,808.0L204.0,810.8L206.0,811.7L214.0,815.6L222.0,819.9L230.0,823.9L232.0,824.8L236.0,825.9L256.0,829.6L260.0,830.7L268.0,833.6L280.0,839.4L284.0,841.6L286.0,842.9L298.0,852.1L300.0,853.3L304.0,855.4L308.0,857.1L310.0,857.6L312.0,857.9L316.0,858.0L330.0,857.6L342.0,856.5L348.0,856.7L354.0,857.7L362.0,860.1L366.0,861.0L372.0,862.0L378.0,862.4L400.0,862.6L406.0,863.1L412.0,864.2L426.0,868.0L430.0,868.9L434.0,869.6L438.0,870.0L444.0,870.1L468.0,869.6L498.0,870.2L516.0,869.4L526.0,869.3L532.0,869.7L556.0,872.0L566.0,872.5L590.0,872.1L624.0,872.8L648.0,872.7L684.0,873.3L720.0,872.9L744.0,873.3L804.0,873.6L840.0,873.2L876.0,873.6L960.0,873.4L1008.0,873.7L1092.0,873.5L1116.0,873.7L1212.0,873.6L1248.0,873.8L1284.0,873.6L1365.4,873.8"/>
<path d="M50.8,450.5L51.7,415.3L53.8,374.7L56.2,308.6L57.7,276.4L60.7,237.1L63.1,210.3L64.9,195.1L65.5,192.8L66.1,192.0L66.4,192.3L67.3,195.1L68.8,208.3L71.5,236.1L73.9,265.0L79.3,347.0L84.7,437.0L90.7,513.9L92.2,531.2L99.1,602.7L103.0,639.6L105.1,654.6L107.5,669.2L109.9,680.3L112.0,687.5L115.0,695.1L119.0,702.7L121.0,705.9L124.0,709.1L125.0,710.4L131.0,721.3L139.0,738.4L154.0,767.5L161.0,783.0L164.0,787.1L168.0,791.1L172.0,794.1L177.0,796.7L183.0,798.9L192.0,801.4L199.0,804.3L204.0,807.0L210.0,811.2L214.0,813.6L220.0,816.7L228.0,820.0L234.0,822.0L240.0,823.1L254.0,825.0L258.0,826.1L260.0,827.0L266.0,830.5L274.0,836.8L276.0,838.3L280.0,840.7L298.0,850.7L306.0,853.8L310.0,854.7L312.0,854.7L322.0,853.5L324.0,853.5L356.0,855.9L366.0,857.3L380.0,859.7L398.0,861.6L404.0,862.6L414.0,864.7L418.0,865.3L436.0,867.5L444.0,868.2L466.0,868.8L480.0,869.6L506.0,869.3L528.0,869.7L550.0,871.0L584.0,871.9L648.0,872.7L708.0,872.8L756.0,873.2L840.0,873.2L888.0,873.4L936.0,873.3L996.0,873.5L1044.0,873.4L1365.4,873.6"/>
<path d="M50.8,447.6L51.7,410.2L53.8,354.2L55.6,297.6L56.8,270.1L59.5,232.7L61.6,208.0L63.7,190.3L64.3,188.8L64.6,188.5L64.9,188.6L65.5,190.1L66.1,193.1L67.0,201.6L69.7,229.9L72.4,261.6L78.4,349.6L83.8,436.2L91.3,527.5L99.7,612.7L102.7,639.6L105.1,656.0L107.5,669.8L109.9,680.2L112.0,686.9L114.0,691.8L116.0,696.0L120.0,703.6L123.0,707.9L125.0,711.8L136.0,740.7L138.0,745.5L140.0,749.6L143.0,754.4L150.0,763.8L153.0,768.4L156.0,773.6L161.0,783.5L164.0,787.2L167.0,789.9L170.0,792.1L173.0,793.6L176.0,794.6L185.0,796.6L187.0,797.3L189.0,798.4L191.0,799.8L193.0,801.6L200.0,808.6L204.0,812.3L208.0,815.1L210.0,816.1L212.0,816.7L220.0,817.2L224.0,817.8L226.0,818.4L228.0,819.3L236.0,823.9L240.0,825.6L244.0,826.8L252.0,828.2L256.0,829.3L258.0,830.2L260.0,831.4L270.0,838.9L272.0,840.3L274.0,841.3L276.0,842.0L278.0,842.2L280.0,842.2L286.0,841.5L288.0,841.5L290.0,842.3L296.0,845.4L300.0,847.1L302.0,848.2L306.0,851.0L308.0,852.2L310.0,853.0L312.0,853.5L314.0,853.7L320.0,853.5L324.0,853.8L334.0,856.5L338.0,857.3L340.0,857.5L342.0,857.6L346.0,857.3L354.0,856.1L358.0,856.2L360.0,856.6L364.0,858.0L374.0,863.2L376.0,864.0L380.0,864.8L384.0,864.9L396.0,863.9L410.0,864.1L418.0,863.6L422.0,863.5L426.0,863.9L428.0,864.4L438.0,867.9L442.0,869.0L444.0,869.4L448.0,869.9L452.0,869.9L464.0,869.3L478.0,869.9L490.0,869.2L494.0,869.1L500.0,869.4L510.0,870.3L514.0,870.4L518.0,870.1L528.0,868.7L532.0,868.6L536.0,868.8L548.0,870.0L560.0,870.9L574.0,872.7L580.0,873.1L584.0,873.1L600.0,872.4L612.0,872.8L648.0,873.0L660.0,872.5L672.0,872.5L684.0,873.0L708.0,873.2L732.0,872.8L756.0,873.4L804.0,873.2L816.0,873.6L864.0,873.2L888.0,873.5L912.0,873.2L948.0,873.6L972.0,873.3L1020.0,873.7L1044.0,873.4L1068.0,873.7L1104.0,873.3L1128.0,873.6L1176.0,873.5L1188.0,873.8L1236.0,873.5L1260.0,873.8L1284.0,873.5L1320.0,873.7L1344.0,873.4L1365.4,873.6"/>
<path d="M50.8,456.4L51.4,429.9L53.8,376.5L56.2,308.5L57.4,284.5L60.4,245.4L62.5,222.6L64.3,208.0L64.6,206.7L65.2,205.4L65.5,205.0L66.1,205.5L66.7,207.3L67.0,209.2L69.4,229.4L71.5,250.7L73.3,271.8L79.0,356.5L84.4,445.4L90.4,521.0L91.9,538.1L98.8,607.5L101.5,633.3L103.0,645.8L105.1,660.1L107.8,675.6L110.5,687.3L113.0,695.4L115.0,700.6L120.0,712.1L124.0,724.4L125.0,726.9L129.0,734.3L134.0,741.4L139.0,750.6L145.0,760.3L149.0,767.5L153.0,776.1L161.0,796.9L163.0,800.0L165.0,802.1L167.0,803.5L169.0,804.6L172.0,805.7L178.0,807.4L181.0,808.4L194.0,814.3L204.0,818.5L208.0,821.1L218.0,828.9L220.0,830.3L224.0,832.5L228.0,834.4L232.0,835.9L234.0,836.5L236.0,836.7L242.0,836.0L248.0,836.0L252.0,836.5L256.0,837.6L266.0,842.3L274.0,846.5L282.0,850.4L292.0,856.4L296.0,858.2L298.0,858.9L300.0,859.3L306.0,859.7L310.0,859.6L316.0,859.2L320.0,859.3L332.0,861.2L344.0,861.4L348.0,861.8L354.0,863.1L360.0,864.7L364.0,865.4L368.0,865.6L378.0,865.1L382.0,865.1L386.0,865.5L396.0,867.3L400.0,867.8L414.0,868.1L418.0,868.4L432.0,870.4L448.0,871.0L462.0,872.4L470.0,872.8L486.0,872.4L498.0,872.3L510.0,871.7L518.0,871.5L526.0,871.8L536.0,872.5L552.0,872.7L568.0,873.5L592.0,873.9L612.0,873.9L624.0,873.6L708.0,873.9L756.0,873.6L912.0,873.9L1365.4,873.9"/>
<path d="M50.8,453.5L51.4,426.6L53.8,385.8L55.3,351.0L56.8,309.9L58.3,280.5L61.6,240.2L64.0,215.3L65.8,200.3L66.4,198.1L67.0,197.1L67.3,197.3L67.9,198.5L68.2,199.7L70.0,214.6L72.4,238.5L74.8,266.5L80.5,352.0L85.9,441.1L91.9,517.2L93.4,534.2L101.8,619.9L104.5,643.8L106.6,658.3L109.0,672.5L111.4,683.3L114.0,691.8L117.0,699.0L123.0,711.1L128.0,719.8L135.0,731.2L140.0,740.6L151.0,759.5L156.0,769.2L161.0,780.1L163.0,783.2L165.0,785.4L167.0,787.1L170.0,789.2L173.0,790.8L178.0,792.9L191.0,797.8L197.0,800.6L202.0,803.2L206.0,805.7L212.0,810.3L222.0,817.4L230.0,821.9L232.0,822.7L236.0,823.8L240.0,824.2L254.0,825.3L258.0,826.1L262.0,827.5L268.0,830.2L278.0,836.1L286.0,840.0L288.0,841.2L296.0,846.3L300.0,848.6L304.0,850.4L308.0,851.9L312.0,852.7L320.0,853.0L324.0,853.5L332.0,855.4L348.0,858.0L354.0,859.4L362.0,861.6L370.0,863.0L376.0,863.5L390.0,863.8L400.0,864.7L408.0,865.8L428.0,869.4L438.0,870.6L446.0,871.0L472.0,871.6L484.0,871.5L496.0,870.9L510.0,869.8L526.0,869.3L556.0,871.4L576.0,872.1L612.0,872.4L636.0,872.2L684.0,872.9L732.0,872.9L804.0,873.7L924.0,873.6L972.0,873.4L1092.0,873.3L1248.0,873.9L1365.4,873.7"/>
<path d="M50.8,451.0L51.7,415.5L53.5,377.1L55.9,308.9L57.4,276.0L60.4,235.4L62.8,207.5L64.6,191.6L65.5,188.7L65.8,188.4L66.1,188.7L66.7,190.1L67.0,191.4L68.5,204.3L71.2,231.5L73.6,259.6L79.3,344.8L84.7,434.0L90.7,510.3L92.5,531.0L99.7,604.8L103.6,641.1L105.7,655.9L108.4,672.0L110.8,682.9L113.0,690.3L116.0,698.0L122.0,710.0L125.0,715.0L134.0,729.0L149.0,758.2L155.0,771.2L161.0,786.3L162.0,788.3L165.0,792.6L169.0,796.6L172.0,799.0L175.0,800.8L178.0,802.3L181.0,803.4L183.0,804.0L186.0,804.5L194.0,805.0L198.0,805.6L202.0,806.8L204.0,807.7L208.0,810.5L218.0,819.1L222.0,822.4L228.0,826.1L232.0,828.0L236.0,829.0L240.0,829.5L246.0,829.7L254.0,829.5L258.0,829.8L262.0,830.7L266.0,832.1L270.0,834.3L290.0,847.7L294.0,850.0L298.0,851.8L302.0,852.7L308.0,853.5L312.0,853.3L320.0,851.5L324.0,851.0L336.0,851.9L340.0,852.4L344.0,853.2L358.0,856.8L362.0,857.5L368.0,857.8L382.0,857.7L402.0,859.3L406.0,860.0L414.0,862.5L420.0,864.2L424.0,865.0L428.0,865.6L434.0,866.3L452.0,867.2L478.0,869.9L486.0,870.3L492.0,870.2L498.0,869.9L508.0,869.0L518.0,868.9L526.0,869.3L540.0,870.7L552.0,871.6L578.0,872.1L600.0,873.1L612.0,873.2L636.0,872.7L672.0,873.2L708.0,872.9L732.0,873.2L768.0,872.9L792.0,873.1L828.0,873.0L984.0,873.6L1104.0,873.7L1140.0,873.5L1260.0,873.4L1365.4,873.6"/>
<path d="M50.8,453.2L51.4,426.2L53.5,377.6L55.6,316.2L57.1,282.0L60.1,241.5L62.2,217.7L64.3,200.5L64.6,199.4L65.2,198.3L65.5,198.2L65.8,198.6L66.4,200.2L66.7,201.6L68.8,220.0L71.2,244.5L73.3,269.2L79.0,353.4L84.4,440.4L91.9,531.1L100.6,617.3L103.3,641.1L105.4,655.5L108.1,671.2L110.5,681.8L113.0,689.9L115.0,694.9L117.0,699.2L120.0,705.1L125.0,714.1L133.0,730.6L141.0,749.0L152.0,770.0L155.0,776.5L161.0,790.7L163.0,793.7L165.0,795.8L167.0,797.4L170.0,799.5L173.0,801.1L176.0,802.4L183.0,804.7L192.0,806.5L198.0,808.3L204.0,810.9L212.0,815.9L216.0,817.9L220.0,819.6L232.0,823.4L242.0,826.2L256.0,831.6L260.0,833.8L266.0,837.9L274.0,844.2L278.0,846.7L282.0,848.7L288.0,851.4L294.0,853.5L300.0,855.2L306.0,856.4L310.0,857.1L314.0,857.0L324.0,856.2L338.0,856.3L344.0,856.4L354.0,857.4L366.0,859.5L382.0,863.7L388.0,864.7L392.0,865.2L408.0,865.5L426.0,866.3L450.0,868.6L456.0,869.0L486.0,870.5L516.0,871.5L532.0,871.1L544.0,871.1L586.0,872.7L624.0,873.3L648.0,873.3L672.0,872.9L756.0,873.6L804.0,873.2L828.0,873.4L864.0,873.5L924.0,873.4L960.0,873.7L1044.0,873.5L1080.0,873.8L1152.0,873.6L1200.0,873.8L1248.0,873.6L1284.0,873.5L1332.0,873.8L1365.4,873.7"/>
<path d="M50.8,448.8L51.7,412.6L53.5,372.9L55.9,304.2L57.1,277.0L60.1,235.6L62.5,207.6L64.6,189.6L65.2,187.8L65.5,187.4L65.8,187.3L66.4,188.6L67.0,191.3L68.2,201.9L71.2,232.8L73.6,261.3L79.3,346.9L84.7,435.8L92.2,528.9L99.4,601.9L102.1,627.9L103.6,640.5L105.7,655.0L108.4,670.9L110.8,681.5L113.0,688.8L116.0,696.3L120.0,704.5L124.0,711.6L134.0,731.0L140.0,743.7L152.0,766.0L156.0,774.7L161.0,786.6L163.0,789.7L165.0,791.8L168.0,794.0L170.0,795.1L172.0,796.0L175.0,796.9L190.0,800.5L202.0,805.0L206.0,807.0L212.0,810.7L222.0,816.2L230.0,819.7L234.0,820.8L244.0,822.0L248.0,822.7L252.0,823.7L256.0,825.1L260.0,827.2L266.0,830.9L276.0,837.9L286.0,843.1L296.0,848.9L300.0,850.7L302.0,851.4L306.0,852.6L310.0,853.4L322.0,853.5L332.0,855.4L346.0,856.4L354.0,857.2L364.0,859.2L372.0,860.3L396.0,862.1L416.0,863.3L424.0,864.2L438.0,866.3L470.0,868.8L478.0,869.2L526.0,869.9L540.0,870.7L578.0,872.4L600.0,872.6L672.0,872.6L768.0,873.3L864.0,873.2L972.0,873.6L1104.0,873.4L1200.0,873.6L1296.0,873.4L1365.4,873.6"/>
<path d="M50.8,450.5L51.7,415.3L53.8,373.5L56.2,307.1L57.7,275.3L60.7,235.6L63.1,207.8L65.2,189.7L65.5,188.6L66.1,187.5L66.4,187.5L66.7,188.0L67.3,189.7L67.6,191.4L69.7,210.5L72.1,235.3L74.2,260.4L79.9,346.6L85.3,436.2L91.3,512.1L92.8,529.2L100.0,601.8L102.7,627.6L104.2,640.0L106.6,656.4L109.0,670.4L111.4,680.9L114.0,689.4L117.0,696.8L120.0,703.0L129.0,719.1L135.0,729.4L149.0,757.2L155.0,770.2L161.0,784.7L162.0,786.6L163.0,788.0L165.0,790.2L167.0,791.7L169.0,792.8L179.0,796.9L191.0,803.1L195.0,804.7L202.0,807.0L204.0,807.8L206.0,808.8L210.0,811.6L222.0,821.5L224.0,822.9L228.0,825.1L230.0,825.9L232.0,826.5L234.0,826.7L242.0,826.7L246.0,827.1L250.0,828.0L256.0,829.9L268.0,835.1L280.0,841.1L284.0,843.3L292.0,848.7L296.0,850.9L298.0,851.7L302.0,852.6L308.0,853.4L316.0,853.6L320.0,853.9L322.0,854.2L328.0,855.7L332.0,856.3L342.0,856.5L346.0,856.9L350.0,857.8L360.0,861.0L364.0,861.9L370.0,862.3L380.0,862.1L384.0,862.4L396.0,864.1L400.0,864.3L408.0,864.2L412.0,864.4L418.0,865.2L428.0,867.1L434.0,867.9L448.0,868.2L462.0,869.5L472.0,869.8L484.0,869.6L498.0,869.7L512.0,868.7L520.0,868.7L536.0,869.8L550.0,870.3L568.0,871.9L584.0,872.3L600.0,872.9L648.0,872.7L672.0,873.0L804.0,873.5L888.0,873.3L1044.0,873.6L1128.0,873.5L1212.0,873.7L1365.4,873.5"/>
<path d="M50.8,453.1L51.7,417.8L53.8,368.2L55.9,306.2L57.1,280.0L60.1,238.8L62.2,214.2L64.3,195.9L65.2,193.2L65.5,193.0L65.8,193.2L66.4,194.6L66.7,195.9L68.5,211.3L70.9,235.3L73.3,263.1L79.0,347.3L84.7,439.4L92.2,530.3L99.7,605.0L103.6,640.6L105.7,655.2L108.4,671.3L110.8,682.2L113.0,689.7L116.0,697.4L121.0,707.6L124.0,712.8L132.0,725.6L135.0,731.0L141.0,743.7L153.0,767.6L161.0,785.3L163.0,788.2L165.0,790.2L168.0,792.5L172.0,795.0L178.0,798.4L183.0,800.9L187.0,802.2L196.0,804.0L199.0,804.8L202.0,805.9L204.0,807.0L208.0,810.2L212.0,813.9L218.0,819.0L222.0,821.7L224.0,822.7L228.0,824.3L232.0,825.5L242.0,827.1L258.0,831.0L266.0,833.8L270.0,836.0L278.0,841.4L288.0,847.7L292.0,849.8L296.0,851.4L300.0,852.5L310.0,854.6L314.0,854.9L322.0,855.0L340.0,855.9L344.0,856.5L356.0,859.7L360.0,860.5L364.0,860.9L376.0,861.5L390.0,863.4L406.0,863.9L410.0,864.5L422.0,867.0L426.0,867.6L442.0,868.5L460.0,870.1L486.0,870.8L496.0,870.7L506.0,869.8L512.0,869.7L542.0,870.5L560.0,871.7L578.0,872.1L596.0,872.8L648.0,872.8L660.0,873.0L732.0,873.3L972.0,873.6L1365.4,873.6"/>
<path d="M50.8,455.2L51.4,428.2L53.8,360.2L55.0,319.6L56.5,282.7L59.2,243.5L61.3,217.9L63.1,202.0L63.4,200.7L64.0,199.5L64.3,199.4L64.6,199.8L65.2,201.5L65.5,203.0L67.3,218.8L69.7,243.1L71.8,267.6L77.5,352.0L83.2,444.7L89.2,519.7L90.7,536.5L97.9,609.4L100.3,632.5L101.8,645.0L103.9,659.4L106.6,674.9L109.0,685.2L111.1,692.0L114.0,699.2L120.0,711.3L125.0,722.3L133.0,737.7L139.0,750.9L142.0,756.4L148.0,766.7L151.0,772.4L155.0,781.5L160.0,794.4L162.0,797.9L165.0,801.3L167.0,802.9L169.0,804.2L173.0,806.0L176.0,806.8L187.0,808.4L190.0,809.3L193.0,810.5L196.0,812.2L200.0,815.0L204.0,818.1L210.0,823.5L214.0,826.5L220.0,830.1L222.0,831.1L228.0,833.6L232.0,834.9L234.0,835.3L238.0,835.6L252.0,835.8L256.0,836.5L258.0,837.3L262.0,839.7L266.0,842.5L270.0,845.7L276.0,849.6L284.0,853.8L290.0,857.3L298.0,860.2L306.0,862.0L310.0,862.5L320.0,862.2L326.0,862.7L338.0,863.2L344.0,863.6L354.0,865.5L362.0,867.4L366.0,868.0L372.0,868.5L384.0,868.7L416.0,870.6L426.0,870.1L432.0,870.1L452.0,871.5L474.0,872.4L480.0,872.3L494.0,871.3L504.0,871.0L518.0,871.4L528.0,871.4L542.0,872.0L560.0,872.4L580.0,873.6L592.0,873.9L624.0,873.5L636.0,873.5L648.0,873.8L672.0,873.7L708.0,873.9L840.0,873.9L876.0,873.7L936.0,873.6L1020.0,873.9L1365.4,873.8"/>
<path d="M50.8,450.2L51.7,415.4L52.9,397.0L53.8,379.2L55.3,343.3L56.5,309.0L58.0,277.6L61.3,235.6L63.7,209.4L65.8,192.2L66.1,191.2L66.7,190.2L67.0,190.2L67.3,190.7L67.9,192.4L68.2,193.9L70.3,212.7L72.7,237.5L74.8,262.3L80.5,347.3L85.9,435.5L93.4,527.9L102.1,615.7L104.8,639.8L106.9,654.4L109.3,668.8L111.7,679.7L114.0,687.4L117.0,694.8L119.0,698.6L121.0,701.8L124.0,705.0L125.0,706.3L129.0,713.1L135.0,724.3L145.0,744.9L156.0,765.7L162.0,778.5L165.0,782.4L168.0,785.3L173.0,789.1L181.0,793.8L185.0,795.8L197.0,800.9L202.0,803.5L206.0,806.2L212.0,811.1L218.0,815.5L222.0,818.1L228.0,821.3L232.0,823.2L236.0,824.4L246.0,826.7L256.0,828.7L262.0,830.8L268.0,833.6L274.0,837.4L278.0,839.7L286.0,843.7L294.0,848.1L300.0,850.7L306.0,852.6L310.0,853.4L314.0,853.3L322.0,852.4L324.0,852.4L332.0,852.8L342.0,852.8L348.0,853.3L380.0,857.8L386.0,858.4L398.0,859.2L404.0,859.8L408.0,860.6L424.0,864.8L432.0,866.4L436.0,867.0L444.0,867.9L452.0,868.5L480.0,869.7L494.0,869.7L510.0,868.9L528.0,868.8L542.0,869.5L558.0,870.7L576.0,871.4L612.0,872.2L684.0,873.1L780.0,873.0L888.0,873.4L972.0,873.3L1116.0,873.6L1212.0,873.4L1365.4,873.5"/>
<path d="M50.8,455.5L51.4,428.7L53.8,364.4L55.3,316.2L56.5,287.5L59.2,248.8L61.3,223.6L63.4,205.6L63.7,204.5L64.3,203.4L64.6,203.3L64.9,203.7L65.8,206.7L68.2,227.3L70.3,248.1L72.4,272.4L78.1,355.7L83.5,442.6L89.5,517.0L91.3,537.2L98.2,606.4L100.9,632.2L102.4,644.6L104.5,658.8L107.2,674.2L109.6,684.5L112.0,692.2L115.0,699.4L125.0,719.6L133.0,733.3L139.0,744.8L148.0,759.8L151.0,765.3L155.0,773.7L161.0,788.1L162.0,789.8L164.0,792.6L166.0,794.7L168.0,796.5L171.0,798.6L175.0,800.6L188.0,804.7L191.0,805.8L194.0,807.3L202.0,811.7L212.0,818.6L218.0,822.1L222.0,824.3L230.0,828.0L234.0,829.2L236.0,829.5L240.0,829.6L252.0,828.9L256.0,829.3L258.0,829.8L262.0,831.5L266.0,833.6L276.0,840.0L286.0,844.5L298.0,851.3L304.0,853.8L308.0,854.9L310.0,855.2L312.0,855.2L320.0,854.6L324.0,854.9L336.0,857.4L354.0,860.0L364.0,862.2L372.0,863.7L376.0,864.2L384.0,864.6L390.0,865.1L396.0,866.1L408.0,868.4L414.0,869.2L436.0,871.4L446.0,871.9L478.0,872.4L506.0,870.9L526.0,870.5L546.0,871.8L576.0,872.8L612.0,873.1L636.0,872.9L672.0,873.2L732.0,873.1L780.0,873.6L852.0,873.8L1104.0,873.6L1176.0,873.6L1236.0,873.9L1365.4,873.8"/>
<path d="M50.8,451.0L51.7,415.5L53.5,377.2L55.9,309.1L57.4,275.9L60.4,235.1L62.8,206.9L64.6,190.8L65.2,188.3L65.8,187.3L66.1,187.5L67.0,190.1L68.5,203.0L71.2,230.6L73.6,258.9L79.3,345.0L84.7,434.5L92.2,527.8L100.9,615.8L103.6,639.9L106.3,658.4L108.4,670.6L110.8,681.3L113.0,688.5L116.0,696.0L120.0,704.1L125.0,711.2L131.0,721.7L134.0,727.4L144.0,749.0L153.0,767.6L160.0,783.2L161.0,785.0L162.0,786.4L164.0,788.4L167.0,790.5L170.0,792.2L183.0,798.1L188.0,799.6L199.0,801.9L202.0,803.0L204.0,803.9L208.0,806.9L216.0,813.9L220.0,817.2L222.0,818.5L226.0,820.6L230.0,822.2L232.0,822.7L240.0,824.2L244.0,825.3L258.0,829.9L266.0,833.1L270.0,835.3L278.0,840.3L288.0,845.9L290.0,847.0L294.0,848.5L298.0,849.5L310.0,851.0L322.0,851.0L330.0,851.8L338.0,851.9L342.0,852.3L346.0,853.0L358.0,856.1L362.0,856.8L376.0,858.2L386.0,860.0L392.0,860.8L396.0,861.0L404.0,861.0L408.0,861.2L412.0,861.9L422.0,864.1L428.0,865.1L434.0,865.8L444.0,866.6L460.0,868.6L478.0,869.5L492.0,870.1L498.0,870.0L508.0,869.2L512.0,869.1L542.0,869.7L548.0,870.0L562.0,871.0L598.0,872.6L624.0,872.7L648.0,872.6L732.0,873.1L780.0,872.9L840.0,873.2L972.0,873.5L1365.4,873.5"/>
<path d="M50.8,452.5L51.4,425.2L53.8,354.5L55.0,313.3L56.2,282.7L58.9,241.7L61.0,215.0L62.8,197.7L63.4,194.9L64.0,193.9L64.3,194.1L64.9,195.4L65.2,196.7L66.7,209.5L69.1,233.7L71.5,261.7L77.2,346.0L82.9,438.6L88.9,513.3L90.4,530.2L97.6,602.7L101.5,638.6L103.6,653.2L106.3,669.3L108.7,680.1L111.1,688.1L114.0,695.2L119.0,704.9L121.0,708.1L125.0,713.0L131.0,723.5L139.0,739.7L154.0,767.6L160.0,780.1L162.0,783.2L165.0,786.2L169.0,789.2L174.0,792.0L182.0,795.6L193.0,799.8L198.0,802.1L202.0,804.3L206.0,807.0L212.0,812.0L220.0,817.9L224.0,820.4L230.0,823.8L232.0,824.7L236.0,826.1L246.0,828.7L256.0,830.8L260.0,832.3L266.0,835.0L274.0,839.8L278.0,841.9L286.0,845.3L294.0,849.0L300.0,851.3L306.0,852.9L310.0,853.6L314.0,853.5L320.0,853.0L324.0,852.9L332.0,853.8L344.0,854.7L352.0,856.0L362.0,858.1L374.0,860.3L384.0,861.4L400.0,862.4L406.0,863.0L430.0,867.2L438.0,868.3L454.0,869.6L478.0,870.7L494.0,870.6L510.0,869.7L530.0,869.1L542.0,869.6L572.0,871.4L598.0,872.3L612.0,872.6L696.0,873.2L780.0,873.1L864.0,873.5L984.0,873.4L1068.0,873.6L1224.0,873.5L1308.0,873.7L1365.4,873.6"/>
<path d="M50.8,452.8L51.7,418.3L53.5,384.1L56.2,311.5L57.7,280.2L60.7,241.7L63.1,215.5L64.9,200.2L65.2,198.7L65.8,197.1L66.1,196.6L66.4,196.6L66.7,197.0L67.3,198.7L67.6,200.4L69.7,218.4L72.1,242.5L73.9,263.3L79.6,347.0L85.3,439.5L91.3,514.3L92.8,531.1L101.2,615.2L104.2,641.6L106.9,659.6L109.0,671.5L111.4,681.9L114.0,690.1L117.0,697.3L120.0,703.4L135.0,730.1L139.0,738.0L150.0,758.7L155.0,769.2L161.0,783.7L162.0,785.7L164.0,788.6L167.0,791.7L169.0,793.4L172.0,795.5L187.0,804.2L194.0,807.5L204.0,811.0L206.0,811.9L214.0,816.9L222.0,822.5L226.0,824.9L230.0,827.1L234.0,828.5L250.0,831.0L254.0,831.9L258.0,833.1L268.0,837.3L274.0,840.3L282.0,843.8L286.0,845.9L294.0,851.0L298.0,853.1L300.0,853.8L306.0,855.2L310.0,855.6L322.0,854.8L332.0,855.4L342.0,855.1L346.0,855.4L352.0,856.5L362.0,859.8L366.0,860.8L370.0,861.6L384.0,862.7L396.0,864.0L410.0,865.0L416.0,866.0L428.0,868.5L432.0,869.1L436.0,869.4L452.0,869.6L474.0,870.3L496.0,870.5L502.0,870.3L516.0,869.4L526.0,869.3L568.0,871.9L586.0,872.2L612.0,873.0L672.0,873.3L720.0,873.1L744.0,873.3L792.0,873.3L876.0,873.6L960.0,873.4L1116.0,873.7L1164.0,873.5L1248.0,873.8L1365.4,873.6"/>
<path d="M50.8,454.7L51.4,427.8L53.8,382.5L56.5,310.3L58.0,279.7L61.0,241.0L63.4,214.5L65.5,197.2L65.8,196.2L66.4,195.0L66.7,195.0L67.0,195.4L67.6,197.0L67.9,198.5L70.0,217.1L72.4,241.8L74.5,266.9L80.2,352.8L85.6,441.6L92.8,531.1L100.0,604.6L103.9,641.1L106.0,656.0L108.7,672.1L110.8,681.7L113.0,689.4L115.0,694.6L118.0,700.8L121.0,706.0L125.0,711.5L128.0,716.1L132.0,723.1L135.0,729.0L142.0,744.9L153.0,768.2L156.0,775.4L161.0,788.6L162.0,790.6L165.0,794.9L168.0,798.0L172.0,801.0L176.0,803.0L182.0,804.7L189.0,805.8L192.0,806.6L195.0,807.7L198.0,809.2L202.0,812.0L204.0,813.6L212.0,821.8L216.0,825.3L220.0,828.2L224.0,830.2L230.0,832.1L234.0,832.6L238.0,832.4L252.0,830.7L256.0,830.7L258.0,831.1L260.0,831.8L262.0,832.7L266.0,834.9L268.0,836.4L276.0,843.3L282.0,847.4L290.0,851.9L296.0,854.1L300.0,855.1L308.0,856.0L312.0,856.0L320.0,855.0L324.0,855.0L328.0,855.7L348.0,860.1L352.0,860.8L360.0,861.5L372.0,861.5L380.0,862.2L390.0,863.8L410.0,868.7L416.0,869.6L422.0,869.9L432.0,869.7L440.0,869.9L460.0,871.1L474.0,871.7L478.0,871.7L484.0,871.4L502.0,869.6L508.0,869.4L540.0,871.3L550.0,871.7L568.0,871.9L592.0,873.2L600.0,873.3L636.0,873.1L660.0,873.7L696.0,873.2L720.0,873.4L744.0,873.2L780.0,873.6L816.0,873.5L852.0,873.7L876.0,873.6L900.0,873.7L948.0,873.4L1032.0,873.8L1056.0,873.7L1092.0,873.8L1188.0,873.6L1224.0,873.9L1272.0,873.9L1308.0,873.7L1344.0,873.8L1365.4,873.7"/>
<path d="M50.8,451.2L51.7,415.6L53.5,376.1L55.9,307.0L57.1,279.7L60.1,237.7L62.5,209.2L64.3,193.0L64.9,190.3L65.5,189.3L65.8,189.4L66.4,190.7L66.7,191.8L68.2,204.6L70.9,232.3L73.3,260.8L79.0,346.9L84.4,436.4L91.9,529.3L99.1,601.6L101.8,627.5L103.3,639.9L105.7,656.2L108.1,670.2L110.5,680.8L113.0,688.8L116.0,696.1L120.0,704.0L125.0,711.6L134.0,728.7L141.0,744.0L153.0,768.3L161.0,786.1L162.0,787.6L164.0,789.8L166.0,791.3L169.0,793.0L177.0,796.6L187.0,801.8L202.0,808.9L206.0,811.4L212.0,816.2L216.0,819.1L220.0,821.7L222.0,822.8L226.0,824.3L230.0,825.2L234.0,825.6L240.0,825.6L244.0,826.0L250.0,827.4L256.0,829.3L266.0,833.8L274.0,838.3L278.0,840.3L290.0,845.9L296.0,848.1L300.0,849.1L310.0,851.1L322.0,852.5L330.0,854.3L334.0,854.7L342.0,855.0L348.0,855.7L362.0,858.5L376.0,860.5L390.0,863.6L394.0,864.2L398.0,864.5L408.0,864.7L412.0,864.9L434.0,867.9L456.0,869.9L462.0,870.2L496.0,869.8L508.0,869.3L516.0,869.3L546.0,870.0L570.0,872.0L598.0,872.9L612.0,872.8L636.0,873.0L744.0,873.0L768.0,873.3L840.0,873.5L924.0,873.3L1008.0,873.6L1164.0,873.5L1272.0,873.7L1365.4,873.5"/>
<path d="M50.8,449.6L51.7,412.9L53.5,368.6L55.6,304.8L56.8,276.3L59.8,233.1L62.2,204.1L64.0,187.7L64.9,184.8L65.2,184.6L65.5,184.9L66.1,186.6L66.4,188.1L67.9,201.6L70.9,233.6L73.0,259.1L78.7,345.5L84.1,435.1L91.6,528.6L98.8,601.8L102.7,638.1L104.8,652.9L107.5,669.1L109.9,680.0L112.0,687.2L114.0,692.4L117.0,698.9L120.0,704.7L124.0,710.6L127.0,716.1L134.0,729.8L140.0,742.8L153.0,767.7L160.0,782.7L161.0,784.6L163.0,786.9L164.0,787.8L166.0,789.0L169.0,790.1L172.0,790.7L180.0,791.2L186.0,792.1L191.0,793.8L198.0,796.8L200.0,797.9L204.0,800.5L212.0,807.6L218.0,812.5L222.0,815.5L226.0,817.8L230.0,819.8L232.0,820.6L234.0,821.2L242.0,822.5L246.0,823.4L252.0,825.3L256.0,827.0L260.0,829.3L266.0,833.4L272.0,838.0L276.0,840.7L280.0,842.9L290.0,847.6L296.0,850.0L300.0,851.1L308.0,852.6L312.0,852.9L318.0,853.0L322.0,853.4L330.0,855.7L334.0,856.5L362.0,860.3L380.0,861.3L396.0,862.5L410.0,862.6L420.0,863.1L426.0,863.7L434.0,865.2L444.0,866.4L460.0,868.7L468.0,869.5L476.0,870.0L508.0,869.4L526.0,869.5L552.0,870.1L576.0,871.8L592.0,872.4L636.0,872.2L684.0,872.7L708.0,873.3L720.0,873.4L804.0,873.2L840.0,873.3L864.0,873.1L960.0,873.6L996.0,873.3L1116.0,873.4L1152.0,873.7L1200.0,873.7L1236.0,873.4L1365.4,873.5"/>
<path d="M50.8,454.8L51.4,427.9L55.0,314.6L56.2,284.7L58.9,244.1L61.0,217.6L62.8,200.8L63.1,199.5L63.7,198.1L64.0,197.9L64.3,198.3L64.9,199.8L65.2,201.4L67.3,219.5L69.4,240.4L71.5,264.5L77.2,347.9L82.9,440.1L90.4,531.9L97.6,604.8L100.3,630.8L101.8,643.3L104.2,659.5L106.6,673.2L109.0,683.7L111.4,691.5L113.0,695.6L115.0,700.0L121.0,711.5L124.0,716.4L131.0,726.2L133.0,729.3L148.0,757.1L154.0,769.6L161.0,786.6L164.0,791.0L168.0,795.1L170.0,796.7L173.0,798.5L175.0,799.5L178.0,800.6L184.0,802.0L191.0,802.6L195.0,803.1L199.0,804.1L202.0,805.3L204.0,806.3L208.0,809.4L222.0,822.0L228.0,826.2L232.0,828.2L234.0,828.9L236.0,829.3L240.0,829.8L246.0,829.9L252.0,829.7L256.0,829.9L260.0,830.8L264.0,832.3L268.0,834.3L276.0,840.2L290.0,849.9L294.0,852.2L298.0,854.1L302.0,855.0L308.0,855.6L312.0,855.2L318.0,853.7L322.0,853.0L326.0,852.9L336.0,854.2L342.0,855.3L358.0,859.6L362.0,860.4L368.0,860.9L384.0,860.6L392.0,861.2L400.0,862.5L416.0,866.5L424.0,868.0L432.0,868.6L446.0,868.9L452.0,869.1L474.0,871.2L482.0,871.6L492.0,871.4L508.0,869.9L516.0,869.6L526.0,869.9L540.0,871.1L548.0,871.5L574.0,871.8L600.0,872.9L612.0,873.0L636.0,872.6L672.0,873.3L696.0,873.1L732.0,873.3L768.0,873.1L792.0,873.4L828.0,873.3L864.0,873.6L1008.0,873.5L1104.0,873.7L1200.0,873.5L1296.0,873.8L1365.4,873.7"/>
<path d="M50.8,454.2L51.4,427.1L53.8,357.4L55.0,316.3L56.5,279.8L59.2,240.4L61.0,217.9L62.8,201.0L63.4,198.3L64.0,197.4L64.3,197.6L65.2,200.4L66.7,213.4L69.1,237.8L71.5,266.1L77.2,351.6L82.9,444.6L90.1,532.3L97.6,606.6L101.5,641.8L103.6,656.1L106.3,671.7L108.7,682.1L110.8,689.0L114.0,696.6L120.0,707.1L121.0,708.3L125.0,711.8L129.0,717.4L131.0,720.7L134.0,726.6L145.0,749.9L154.0,767.3L160.0,779.4L162.0,782.3L164.0,784.2L167.0,786.5L171.0,789.1L183.0,795.8L192.0,800.2L198.0,803.9L202.0,807.1L204.0,808.9L210.0,815.5L214.0,819.4L218.0,822.5L220.0,823.7L222.0,824.7L224.0,825.4L228.0,826.5L232.0,827.1L240.0,827.7L244.0,828.2L254.0,830.1L258.0,831.3L262.0,833.2L266.0,835.4L268.0,836.8L276.0,843.2L282.0,847.1L290.0,851.3L294.0,852.7L298.0,853.8L308.0,856.2L310.0,856.6L314.0,857.0L340.0,857.9L352.0,858.6L358.0,858.6L366.0,858.3L372.0,858.5L376.0,859.2L390.0,862.6L404.0,864.8L420.0,868.1L424.0,868.6L438.0,869.9L452.0,871.5L458.0,871.9L480.0,871.4L504.0,869.9L508.0,869.8L522.0,870.3L544.0,870.5L588.0,872.2L612.0,872.1L660.0,873.4L696.0,873.4L744.0,873.1L768.0,873.5L816.0,873.3L900.0,873.9L936.0,873.5L984.0,873.4L1140.0,873.8L1188.0,873.5L1272.0,873.9L1296.0,873.7L1344.0,873.8L1365.4,873.7"/>
<path d="M50.8,450.4L51.7,415.1L53.8,374.2L56.2,307.7L57.7,274.8L60.7,234.6L63.1,207.0L65.2,189.6L65.8,188.1L66.1,187.8L66.4,188.0L67.0,189.5L67.6,192.6L68.8,203.9L71.5,232.6L73.9,261.7L79.6,348.8L85.0,438.3L92.2,528.1L99.4,602.2L103.3,638.9L105.4,653.8L107.8,668.3L109.9,678.1L112.0,685.5L115.0,692.7L118.0,698.0L120.0,701.1L121.0,702.2L124.0,704.1L125.0,705.3L129.0,712.4L136.0,727.0L141.0,740.1L146.0,751.7L155.0,769.9L161.0,782.7L163.0,785.5L165.0,787.5L168.0,790.0L171.0,792.1L173.0,793.1L176.0,794.1L178.0,794.6L181.0,794.9L183.0,794.9L189.0,794.4L191.0,794.4L194.0,795.0L197.0,796.4L199.0,797.4L202.0,799.6L204.0,801.3L210.0,807.3L212.0,809.0L214.0,810.4L218.0,812.4L222.0,813.6L228.0,817.0L232.0,818.8L236.0,819.9L246.0,821.7L252.0,822.9L256.0,824.0L260.0,825.5L266.0,828.5L268.0,829.7L276.0,838.7L280.0,842.1L284.0,844.5L290.0,847.0L308.0,851.7L310.0,852.1L314.0,852.2L322.0,851.1L326.0,851.2L346.0,854.7L350.0,855.0L358.0,854.4L368.0,856.1L378.0,857.3L382.0,858.6L386.0,859.6L400.0,862.0L410.0,864.4L414.0,865.0L418.0,865.3L428.0,864.8L432.0,864.9L452.0,867.5L468.0,868.4L478.0,869.2L486.0,869.3L502.0,868.6L506.0,868.8L516.0,870.0L522.0,870.4L534.0,870.3L552.0,870.5L562.0,870.4L588.0,871.8L636.0,872.1L648.0,872.6L660.0,872.7L672.0,872.5L708.0,872.7L720.0,873.0L744.0,872.9L768.0,873.2L804.0,873.0L888.0,873.4L936.0,873.2L960.0,873.5L1044.0,873.3L1092.0,873.5L1116.0,873.4L1188.0,873.4L1212.0,873.6L1248.0,873.4L1284.0,873.4L1332.0,873.7L1365.4,873.5"/>
<path d="M50.8,455.5L51.4,428.9L53.8,368.8L55.6,313.8L56.8,287.2L59.5,250.5L61.6,226.4L63.7,209.8L64.3,208.5L64.6,208.2L64.9,208.4L65.5,209.6L66.1,212.4L67.9,227.3L70.0,246.9L72.4,273.8L78.1,357.1L83.5,444.7L89.5,520.1L91.3,540.0L99.1,618.6L102.1,644.9L104.2,659.0L106.6,672.7L109.0,683.1L111.4,690.8L114.0,697.2L128.0,726.8L133.0,735.9L138.0,745.4L147.0,759.9L151.0,767.4L154.0,774.0L160.0,789.6L161.0,791.7L163.0,794.8L166.0,798.1L168.0,799.7L171.0,801.3L174.0,802.3L181.0,804.0L185.0,805.3L189.0,807.0L197.0,810.9L206.0,814.0L214.0,817.3L218.0,819.4L228.0,826.0L232.0,828.3L234.0,829.0L236.0,829.5L248.0,830.6L252.0,831.5L254.0,832.3L258.0,834.4L272.0,844.2L276.0,846.3L284.0,849.8L286.0,850.9L296.0,857.6L300.0,859.6L304.0,860.5L308.0,860.7L312.0,860.1L318.0,858.6L322.0,858.1L334.0,859.0L346.0,858.2L350.0,858.3L354.0,858.8L356.0,859.3L364.0,862.2L370.0,863.8L374.0,864.3L386.0,864.6L390.0,865.1L400.0,867.0L404.0,867.4L416.0,867.6L420.0,867.8L432.0,869.6L438.0,870.2L454.0,870.1L474.0,871.5L488.0,871.5L502.0,872.0L510.0,871.9L526.0,871.2L540.0,872.0L556.0,871.9L572.0,872.5L590.0,872.5L612.0,873.3L696.0,873.4L744.0,873.8L792.0,873.4L876.0,873.8L924.0,873.6L984.0,873.8L1032.0,873.6L1116.0,873.9L1272.0,873.7L1320.0,873.9L1365.4,873.8"/>
<path d="M50.8,453.0L51.7,417.7L53.8,367.0L55.9,304.4L57.1,278.9L60.1,237.7L62.2,213.1L64.0,197.0L64.9,193.9L65.2,193.5L65.8,194.0L66.4,195.9L66.7,197.9L68.8,216.2L71.2,240.7L73.0,261.8L78.7,346.1L84.4,439.2L91.6,528.1L98.8,600.5L103.0,639.1L105.1,653.7L107.8,669.6L109.9,679.2L112.0,686.7L114.0,692.1L116.0,696.7L120.0,704.1L121.0,705.6L125.0,710.2L129.0,715.8L133.0,722.0L136.0,727.4L142.0,739.7L151.0,759.5L155.0,769.0L161.0,784.8L162.0,786.9L164.0,789.9L167.0,793.3L170.0,795.8L173.0,797.7L177.0,799.8L184.0,803.1L189.0,804.9L200.0,807.6L204.0,809.1L206.0,810.3L210.0,813.6L222.0,824.5L224.0,826.0L228.0,828.3L230.0,829.1L232.0,829.6L234.0,829.9L244.0,829.4L248.0,829.5L252.0,829.9L256.0,830.8L258.0,831.4L264.0,834.2L268.0,836.4L272.0,839.3L282.0,847.2L290.0,854.3L292.0,855.7L296.0,858.1L298.0,858.8L300.0,859.3L302.0,859.5L306.0,859.6L310.0,859.3L318.0,857.8L322.0,857.4L342.0,857.8L348.0,858.8L358.0,861.4L362.0,862.1L368.0,862.1L378.0,861.2L384.0,861.5L388.0,862.1L398.0,864.3L420.0,868.3L424.0,868.9L428.0,869.2L434.0,869.2L444.0,868.5L448.0,868.4L454.0,868.7L468.0,869.8L478.0,870.1L496.0,869.9L508.0,868.9L514.0,868.7L522.0,869.2L538.0,870.8L562.0,871.4L580.0,871.6L600.0,872.8L636.0,873.0L660.0,873.5L672.0,873.6L696.0,873.2L732.0,873.6L756.0,873.4L780.0,873.6L816.0,873.3L864.0,873.5L948.0,873.3L984.0,873.6L1068.0,873.6L1104.0,873.9L1188.0,873.6L1224.0,873.8L1260.0,873.6L1344.0,873.7L1365.4,873.6"/>
<path d="M50.8,451.3L51.7,415.2L53.8,362.4L55.6,306.8L56.8,279.1L59.8,236.8L61.9,211.9L64.0,193.9L64.3,192.8L64.9,191.7L65.2,191.7L65.5,192.2L66.1,194.0L66.4,195.9L68.2,212.0L70.6,236.6L72.7,261.0L78.4,344.6L84.1,436.7L91.6,528.4L98.8,601.2L102.7,637.2L104.8,651.9L107.5,667.9L109.9,678.6L112.0,685.5L115.0,692.7L117.0,696.6L120.0,701.7L121.0,702.7L124.0,704.5L125.0,705.7L127.0,709.3L131.0,717.3L138.0,733.0L143.0,743.4L155.0,767.3L161.0,780.9L162.0,782.5L164.0,785.2L167.0,788.2L171.0,791.2L175.0,793.1L180.0,794.6L191.0,797.3L195.0,798.8L200.0,801.0L204.0,803.0L212.0,808.4L220.0,813.1L232.0,819.7L234.0,820.5L238.0,821.7L252.0,825.0L256.0,826.3L258.0,827.2L262.0,829.6L266.0,832.4L274.0,838.9L278.0,841.6L296.0,851.5L300.0,853.3L302.0,854.0L306.0,855.1L310.0,855.6L314.0,855.3L322.0,854.0L326.0,854.2L332.0,855.0L346.0,856.3L354.0,857.4L370.0,861.2L378.0,862.5L392.0,863.8L412.0,865.9L426.0,866.8L438.0,867.8L460.0,868.5L480.0,869.6L530.0,869.1L562.0,870.3L580.0,871.3L612.0,872.3L696.0,872.8L756.0,873.4L804.0,873.3L852.0,873.5L912.0,873.3L984.0,873.4L1044.0,873.3L1092.0,873.6L1224.0,873.7L1365.4,873.4"/>
<path d="M50.8,453.2L51.4,426.1L53.8,359.8L55.3,311.5L56.5,283.5L59.2,245.9L61.3,221.7L63.1,206.9L63.7,204.7L64.3,204.3L64.6,204.7L65.5,207.6L67.3,222.9L69.7,246.1L72.1,273.2L77.8,355.4L83.2,441.6L89.5,519.7L91.0,536.4L98.2,609.1L100.6,632.1L102.1,644.6L104.2,658.7L106.9,674.0L109.3,684.1L111.4,690.7L113.0,694.6L115.0,698.8L120.0,707.9L126.0,717.7L133.0,730.8L138.0,740.9L148.0,757.6L151.0,763.1L155.0,771.6L160.0,784.7L162.0,789.1L164.0,792.6L166.0,795.5L169.0,799.1L171.0,801.1L173.0,802.6L176.0,804.2L179.0,805.1L186.0,806.8L190.0,808.2L193.0,809.8L202.0,815.2L208.0,818.4L212.0,820.0L218.0,821.6L222.0,823.1L226.0,824.8L232.0,827.9L234.0,828.7L236.0,829.1L240.0,829.4L252.0,828.0L254.0,828.1L256.0,828.4L258.0,829.1L260.0,830.2L264.0,833.0L272.0,840.0L276.0,843.0L286.0,848.3L292.0,852.6L298.0,857.3L300.0,858.6L304.0,860.7L306.0,861.3L308.0,861.7L310.0,861.8L312.0,861.5L320.0,859.0L324.0,858.2L328.0,858.3L336.0,859.1L340.0,859.2L352.0,858.5L356.0,858.4L360.0,859.0L370.0,861.7L374.0,862.5L378.0,862.7L388.0,862.6L392.0,863.1L396.0,864.0L406.0,867.3L412.0,868.6L426.0,869.5L438.0,870.9L444.0,871.0L456.0,870.0L460.0,869.9L464.0,870.0L474.0,870.8L478.0,870.9L490.0,870.3L496.0,870.2L512.0,870.8L528.0,870.8L540.0,872.2L548.0,872.6L562.0,872.2L578.0,872.6L594.0,872.3L612.0,873.0L636.0,873.1L648.0,873.5L684.0,873.5L696.0,873.1L732.0,873.3L744.0,873.6L780.0,873.8L828.0,873.3L888.0,873.8L936.0,873.4L984.0,873.8L1068.0,873.5L1116.0,873.9L1176.0,873.6L1224.0,873.9L1284.0,873.6L1365.4,873.9"/>
<path d="M50.8,457.8L51.4,431.6L53.5,389.7L56.2,316.8L57.7,286.9L60.7,249.8L62.8,228.6L64.9,213.1L65.8,210.7L66.1,210.4L66.7,211.0L67.3,212.6L67.6,214.5L70.0,233.8L72.1,254.3L73.9,274.6L79.9,360.5L85.3,445.1L91.6,520.7L93.1,536.8L101.8,621.7L104.5,644.9L106.9,660.7L109.3,674.3L111.7,684.5L114.0,691.9L116.0,696.8L118.0,701.0L122.0,708.6L128.0,719.1L134.0,730.4L142.0,748.1L152.0,767.2L156.0,776.0L162.0,790.7L165.0,795.0L168.0,798.1L171.0,800.6L174.0,802.7L176.0,803.7L179.0,804.8L182.0,805.5L184.0,805.7L191.0,805.7L194.0,805.8L197.0,806.3L200.0,807.2L204.0,809.1L212.0,814.7L214.0,815.9L220.0,818.9L234.0,824.3L246.0,828.7L254.0,831.1L258.0,832.6L262.0,834.9L266.0,837.7L276.0,846.9L280.0,849.8L284.0,852.2L288.0,854.3L290.0,855.2L294.0,856.7L300.0,858.2L306.0,859.2L310.0,859.4L314.0,858.8L322.0,856.4L326.0,855.5L334.0,854.9L338.0,854.9L342.0,855.1L356.0,856.6L364.0,857.7L368.0,858.5L380.0,861.8L384.0,862.7L388.0,863.3L402.0,864.9L416.0,867.4L422.0,867.9L434.0,868.3L452.0,869.7L466.0,870.4L480.0,871.8L490.0,872.3L530.0,872.3L552.0,872.2L570.0,871.8L590.0,872.5L624.0,873.2L660.0,873.3L684.0,873.2L756.0,873.6L804.0,873.1L864.0,873.8L912.0,873.6L972.0,873.8L1044.0,873.4L1092.0,873.9L1152.0,873.6L1200.0,873.8L1248.0,873.5L1308.0,873.9L1365.4,873.8"/>
<path d="M50.8,452.7L51.4,425.5L53.8,365.2L55.6,310.1L56.8,282.3L59.8,240.1L61.9,215.2L64.0,197.1L64.9,194.7L65.2,194.6L65.5,195.0L66.1,196.6L66.4,198.2L68.2,213.8L70.6,238.0L72.7,262.1L78.4,345.5L84.1,437.6L91.6,529.0L98.8,601.4L102.7,637.5L104.8,652.3L107.5,668.4L109.9,679.3L112.0,686.4L115.0,693.9L117.0,697.8L120.0,703.1L121.0,704.3L124.0,706.8L125.0,707.9L129.0,714.3L132.0,719.8L145.0,746.5L155.0,766.4L161.0,779.8L162.0,781.5L164.0,784.1L168.0,788.2L170.0,789.8L173.0,791.9L177.0,794.2L180.0,795.6L184.0,797.3L197.0,801.5L200.0,802.7L204.0,804.7L220.0,816.6L224.0,819.1L230.0,822.3L232.0,823.2L236.0,824.4L256.0,828.5L258.0,829.1L262.0,830.9L266.0,832.9L268.0,834.1L276.0,839.9L290.0,848.5L296.0,851.7L300.0,853.3L306.0,854.8L310.0,855.3L314.0,855.0L320.0,854.0L324.0,853.6L342.0,854.4L350.0,855.6L362.0,858.1L366.0,858.8L376.0,860.2L402.0,863.2L418.0,866.4L426.0,867.6L436.0,868.5L466.0,869.5L480.0,870.2L494.0,870.1L510.0,869.3L526.0,869.1L556.0,870.5L612.0,872.4L672.0,873.0L816.0,873.2L864.0,873.5L948.0,873.3L1104.0,873.6L1365.4,873.5"/>
<path d="M50.8,449.2L51.7,414.0L52.9,394.7L53.8,376.4L56.5,305.4L58.0,274.6L61.0,236.7L63.4,210.2L65.5,192.7L66.1,190.8L66.7,190.2L67.0,190.5L67.9,193.4L69.7,209.2L72.1,233.5L74.5,261.6L80.2,346.8L85.6,435.7L93.1,528.5L100.3,601.1L103.0,626.9L104.5,639.4L106.9,655.6L109.3,669.4L111.7,679.7L114.0,686.9L117.0,693.9L120.0,699.3L121.0,700.5L124.0,702.8L125.0,704.1L129.0,711.2L135.0,722.5L145.0,744.0L155.0,763.3L161.0,776.0L162.0,778.0L163.0,779.4L166.0,782.5L169.0,784.8L172.0,786.6L177.0,788.7L182.0,790.6L183.0,791.3L195.0,801.2L199.0,804.3L204.0,807.7L212.0,813.7L220.0,819.0L226.0,822.4L230.0,824.3L234.0,825.4L244.0,826.3L248.0,826.8L254.0,828.1L258.0,829.5L266.0,833.5L274.0,837.9L284.0,842.2L288.0,844.4L298.0,851.0L300.0,852.0L306.0,854.5L310.0,855.6L312.0,855.9L322.0,856.4L328.0,857.3L332.0,857.7L336.0,857.6L346.0,856.7L350.0,856.6L354.0,856.8L370.0,859.4L386.0,860.8L408.0,863.5L418.0,865.2L434.0,869.1L440.0,869.9L448.0,870.2L470.0,870.1L488.0,869.1L524.0,868.0L530.0,868.2L572.0,871.4L588.0,871.5L600.0,871.8L624.0,872.1L648.0,872.7L684.0,873.3L732.0,872.9L768.0,873.3L816.0,873.4L852.0,873.3L888.0,873.5L960.0,873.2L1092.0,873.5L1128.0,873.7L1176.0,873.5L1248.0,873.8L1296.0,873.5L1365.4,873.5"/>
<path d="M50.8,452.4L51.7,416.2L53.8,358.0L55.3,309.5L56.5,281.2L59.5,238.7L61.6,214.2L63.4,199.1L63.7,198.0L64.3,196.9L64.6,196.9L64.9,197.3L65.5,199.0L65.8,200.8L68.2,221.8L70.6,246.2L72.4,267.5L77.8,346.5L83.5,439.2L89.5,515.3L91.3,535.7L98.2,605.8L102.1,641.5L104.2,656.0L106.9,671.6L109.3,682.2L111.7,690.1L115.0,698.2L120.0,708.7L127.0,724.1L129.0,728.0L134.0,736.5L138.0,743.9L145.0,755.1L149.0,762.1L151.0,766.1L154.0,773.0L161.0,791.6L163.0,794.9L164.0,796.2L166.0,798.3L168.0,799.8L171.0,801.1L174.0,801.8L179.0,802.1L182.0,802.6L185.0,803.5L189.0,805.2L197.0,809.5L206.0,813.4L214.0,817.6L218.0,820.3L228.0,827.8L230.0,829.0L232.0,829.9L234.0,830.5L236.0,830.6L238.0,830.5L246.0,829.2L250.0,828.9L254.0,829.6L256.0,830.2L260.0,832.4L272.0,839.9L276.0,841.8L282.0,844.2L286.0,846.3L296.0,853.5L298.0,854.7L300.0,855.6L304.0,856.6L308.0,856.9L310.0,856.7L318.0,855.3L320.0,855.3L322.0,855.4L324.0,855.9L330.0,857.9L334.0,858.9L338.0,859.4L348.0,859.8L352.0,860.3L356.0,861.3L364.0,864.1L368.0,865.0L370.0,865.2L374.0,865.1L382.0,864.0L386.0,863.9L390.0,864.3L400.0,866.4L404.0,867.0L408.0,867.1L418.0,867.0L422.0,867.4L432.0,869.0L436.0,869.5L440.0,869.6L450.0,869.3L454.0,869.4L468.0,870.9L474.0,871.3L478.0,871.2L488.0,870.6L502.0,870.6L522.0,869.8L528.0,870.1L540.0,871.5L556.0,871.7L572.0,872.8L590.0,872.9L600.0,873.3L612.0,873.4L624.0,872.9L660.0,873.1L672.0,873.3L696.0,873.1L708.0,873.4L756.0,873.4L780.0,873.7L864.0,873.5L1020.0,873.7L1128.0,873.6L1224.0,873.9L1308.0,873.6L1365.4,873.7"/>
<path d="M50.8,453.4L51.4,426.5L53.8,380.1L56.2,314.9L57.7,282.7L61.0,239.2L63.4,212.3L65.2,196.5L66.1,193.6L66.4,193.3L67.0,194.0L67.6,196.1L67.9,198.3L70.3,219.5L72.4,241.3L74.2,262.8L79.6,344.1L85.3,438.8L91.3,515.0L92.8,532.0L101.2,616.3L104.2,642.6L106.9,660.6L109.0,672.5L111.4,683.0L114.0,691.4L117.0,698.9L124.0,713.6L128.0,720.3L135.0,730.3L142.0,743.0L148.0,754.8L152.0,763.3L155.0,770.1L161.0,784.8L162.0,786.7L163.0,788.1L165.0,790.1L167.0,791.6L169.0,792.6L178.0,796.0L187.0,800.8L190.0,802.2L195.0,803.9L202.0,805.5L204.0,806.2L206.0,807.3L208.0,808.7L212.0,812.3L220.0,820.9L224.0,824.7L228.0,827.7L230.0,828.7L232.0,829.4L234.0,829.8L242.0,829.9L244.0,830.0L248.0,830.6L252.0,831.6L256.0,832.8L262.0,835.1L268.0,837.1L272.0,838.8L280.0,842.7L284.0,845.1L290.0,849.7L292.0,851.0L296.0,853.1L298.0,853.7L300.0,854.1L306.0,854.1L318.0,853.2L322.0,853.4L328.0,854.6L332.0,855.1L340.0,855.0L344.0,855.2L346.0,855.5L350.0,856.6L360.0,860.6L364.0,861.5L368.0,861.6L378.0,860.5L384.0,860.6L396.0,862.6L400.0,862.9L408.0,863.1L412.0,863.5L416.0,864.4L426.0,867.1L432.0,868.1L436.0,868.4L448.0,868.5L452.0,868.9L464.0,870.5L472.0,871.0L496.0,871.1L500.0,870.8L512.0,869.3L518.0,869.0L524.0,869.2L536.0,870.2L550.0,870.5L566.0,871.8L584.0,872.1L600.0,873.0L648.0,872.7L672.0,873.3L684.0,873.2L732.0,873.4L756.0,873.1L804.0,873.4L888.0,873.4L912.0,873.6L996.0,873.4L1044.0,873.7L1128.0,873.6L1176.0,873.7L1200.0,873.5L1260.0,873.6L1284.0,873.8L1365.4,873.6"/>
<path d="M50.8,450.5L51.7,414.9L53.5,376.9L55.9,308.9L57.4,275.8L60.4,235.4L62.8,207.9L64.6,192.4L65.2,190.1L65.8,189.3L66.1,189.6L67.0,192.4L68.5,205.5L71.2,233.3L73.6,261.8L79.3,348.0L84.7,437.6L91.9,528.2L99.1,602.3L103.0,639.0L105.1,654.0L107.8,670.2L109.9,679.9L112.0,687.2L115.0,694.8L119.0,702.4L121.0,705.4L124.0,708.4L125.0,709.6L128.0,714.4L131.0,719.8L134.0,725.7L139.0,736.7L152.0,763.6L155.0,770.2L161.0,784.4L163.0,787.4L166.0,790.5L168.0,792.2L170.0,793.5L172.0,794.4L175.0,795.5L180.0,796.6L191.0,798.1L195.0,799.3L199.0,800.8L204.0,803.5L212.0,809.7L220.0,815.1L224.0,817.2L228.0,818.9L232.0,820.2L234.0,820.6L242.0,821.0L248.0,822.1L256.0,824.0L260.0,825.5L264.0,827.5L266.0,828.7L274.0,836.0L278.0,839.3L290.0,847.6L296.0,851.0L300.0,852.6L306.0,854.0L310.0,854.4L312.0,854.3L320.0,853.4L324.0,853.4L332.0,854.7L350.0,856.9L362.0,858.0L376.0,858.8L386.0,859.8L394.0,861.2L410.0,864.4L416.0,865.3L434.0,866.6L450.0,867.5L474.0,869.4L482.0,869.6L508.0,869.0L526.0,870.0L540.0,870.9L566.0,871.2L596.0,872.2L636.0,872.2L660.0,872.8L696.0,872.6L720.0,873.0L780.0,873.4L816.0,873.1L900.0,873.4L936.0,873.3L972.0,873.5L1056.0,873.3L1224.0,873.7L1260.0,873.5L1308.0,873.4L1344.0,873.7L1365.4,873.6"/>
<path d="M50.8,451.2L51.7,415.7L53.8,371.5L55.9,311.5L57.4,277.6L60.4,236.7L62.8,208.5L64.9,190.1L65.2,188.8L65.8,187.5L66.1,187.4L66.4,187.8L67.0,189.4L67.3,190.8L68.8,203.9L71.5,231.2L73.9,259.1L79.6,343.7L85.0,432.1L92.5,525.4L99.7,598.9L102.4,625.2L103.9,638.0L106.0,652.7L108.7,668.7L110.8,678.1L113.0,685.5L116.0,692.7L118.0,696.5L120.0,699.8L121.0,700.8L124.0,702.7L125.0,703.9L128.0,709.2L135.0,724.4L139.0,734.0L144.0,745.3L155.0,768.4L161.0,783.1L162.0,785.1L164.0,788.0L167.0,791.2L169.0,792.9L171.0,794.2L173.0,795.1L176.0,796.1L181.0,796.7L188.0,796.7L191.0,796.9L195.0,797.7L199.0,799.2L204.0,802.0L212.0,808.5L220.0,814.1L228.0,818.8L232.0,820.7L236.0,822.0L240.0,822.8L252.0,824.6L256.0,825.5L258.0,826.3L262.0,828.5L266.0,831.3L274.0,838.2L278.0,841.1L282.0,843.4L290.0,847.4L296.0,849.7L300.0,850.8L304.0,851.5L308.0,851.8L312.0,851.5L320.0,849.5L322.0,849.3L324.0,849.5L330.0,850.8L336.0,851.6L348.0,854.1L372.0,858.4L380.0,859.6L394.0,861.3L412.0,864.4L418.0,864.9L430.0,865.3L450.0,866.8L462.0,867.9L476.0,869.5L480.0,869.7L486.0,869.7L508.0,869.0L528.0,869.1L544.0,869.8L560.0,870.1L592.0,872.0L612.0,872.6L636.0,872.4L660.0,872.7L684.0,872.6L720.0,873.1L804.0,873.0L852.0,873.4L936.0,873.2L972.0,873.5L1008.0,873.3L1092.0,873.6L1140.0,873.4L1212.0,873.6L1248.0,873.4L1332.0,873.6L1365.4,873.4"/>
<path d="M50.8,450.1L51.7,413.1L53.8,354.8L55.3,305.8L56.5,276.8L59.2,237.4L61.6,208.1L63.4,192.2L63.7,191.0L64.3,189.8L64.6,189.7L64.9,190.2L65.5,191.9L65.8,193.8L67.6,210.3L70.0,235.5L72.1,260.2L77.8,344.1L83.5,436.6L91.0,529.3L98.2,603.1L102.1,639.2L104.2,653.8L106.9,669.7L109.3,680.3L111.4,687.3L114.0,693.7L116.0,697.7L120.0,705.1L124.0,710.3L125.0,712.0L139.0,740.7L149.0,757.9L152.0,763.5L155.0,769.6L161.0,783.8L162.0,785.5L164.0,788.4L167.0,791.5L170.0,793.8L173.0,795.1L176.0,795.8L186.0,797.1L189.0,797.9L192.0,799.3L197.0,802.5L210.0,811.6L218.0,816.4L230.0,824.5L234.0,826.7L236.0,827.4L240.0,828.1L244.0,828.2L250.0,828.0L254.0,828.3L256.0,828.7L258.0,829.5L262.0,831.7L266.0,834.4L272.0,838.9L276.0,841.3L286.0,844.9L292.0,847.9L298.0,851.4L300.0,852.3L304.0,853.8L308.0,854.6L310.0,854.7L312.0,854.5L320.0,852.9L322.0,852.7L324.0,852.9L326.0,853.3L332.0,855.1L338.0,856.4L342.0,856.9L352.0,857.5L356.0,858.0L368.0,860.9L372.0,861.6L376.0,861.9L388.0,861.3L392.0,861.5L396.0,861.9L404.0,863.4L410.0,864.2L420.0,864.8L426.0,865.4L436.0,867.3L440.0,867.9L446.0,868.3L458.0,868.7L472.0,870.1L478.0,870.4L494.0,869.6L512.0,869.3L526.0,868.8L530.0,869.0L544.0,870.3L560.0,870.8L574.0,871.9L582.0,872.2L612.0,872.8L636.0,872.6L648.0,872.8L720.0,873.3L768.0,873.2L816.0,873.4L900.0,873.3L1152.0,873.6L1365.4,873.6"/>
<path d="M50.8,452.9L51.7,418.4L53.5,384.3L56.2,311.7L57.7,280.3L60.7,242.0L63.1,216.3L65.2,200.2L65.5,199.2L66.1,198.2L66.4,198.3L66.7,198.7L67.3,200.4L67.6,202.1L69.7,220.4L71.8,241.5L73.9,265.6L79.6,348.8L85.3,440.7L91.3,515.3L92.8,532.1L101.5,619.9L104.2,643.5L106.9,661.6L109.0,673.5L111.4,683.9L114.0,692.1L116.0,697.2L126.0,719.6L129.0,725.9L135.0,737.5L139.0,745.9L141.0,749.5L149.0,762.4L152.0,767.6L156.0,775.7L161.0,787.1L163.0,790.2L165.0,792.4L167.0,794.2L171.0,797.1L176.0,799.8L183.0,802.6L192.0,805.6L202.0,810.1L206.0,812.2L212.0,815.9L234.0,827.7L240.0,830.1L246.0,832.0L254.0,833.7L258.0,834.9L266.0,838.5L272.0,841.8L276.0,843.7L286.0,846.8L300.0,853.0L306.0,855.1L310.0,856.0L312.0,856.1L324.0,855.3L342.0,856.4L348.0,857.0L352.0,857.6L356.0,858.5L370.0,862.7L374.0,863.6L378.0,864.2L386.0,864.5L400.0,864.0L408.0,864.1L420.0,865.4L436.0,868.3L444.0,869.3L450.0,869.7L466.0,870.2L478.0,871.0L486.0,871.2L502.0,871.2L514.0,870.8L526.0,870.0L532.0,869.9L574.0,872.6L612.0,873.3L660.0,872.9L696.0,873.4L756.0,873.4L780.0,873.2L816.0,873.5L912.0,873.5L948.0,873.7L1365.4,873.7"/>
<path d="M50.8,449.8L51.7,414.9L52.9,396.1L53.8,378.1L56.5,307.6L58.0,276.6L61.0,238.3L63.4,211.5L65.5,193.4L66.1,191.1L66.7,190.3L67.0,190.5L67.9,193.0L69.4,205.5L72.1,232.4L74.5,260.1L80.2,344.4L85.6,432.4L91.9,511.5L93.4,528.3L102.1,617.7L104.8,641.8L107.5,660.6L109.6,672.9L112.0,683.6L115.0,693.2L118.0,700.5L124.0,713.0L128.0,720.1L134.0,729.9L141.0,743.4L152.0,762.7L156.0,770.4L161.0,781.4L162.0,783.3L165.0,787.3L169.0,791.8L173.0,795.9L177.0,799.5L180.0,801.7L182.0,802.8L184.0,803.6L186.0,804.1L188.0,804.2L190.0,804.1L200.0,802.7L202.0,802.7L204.0,802.9L206.0,803.5L212.0,806.4L220.0,812.3L224.0,814.8L228.0,817.0L232.0,818.8L234.0,819.4L238.0,820.3L246.0,823.9L250.0,825.1L252.0,825.5L262.0,826.5L268.0,829.7L276.0,835.0L286.0,840.0L292.0,843.3L300.0,848.4L306.0,851.5L310.0,853.1L312.0,853.4L316.0,853.4L324.0,851.7L330.0,850.9L344.0,852.3L350.0,853.2L362.0,857.7L368.0,859.4L374.0,860.6L380.0,861.3L384.0,861.4L388.0,861.0L396.0,859.6L400.0,859.1L406.0,859.8L410.0,860.5L412.0,861.1L420.0,863.9L424.0,865.0L428.0,865.8L434.0,866.5L442.0,866.9L452.0,867.0L474.0,868.6L480.0,868.8L488.0,869.8L494.0,870.2L498.0,870.1L512.0,869.2L526.0,868.9L530.0,869.0L538.0,869.6L554.0,871.8L560.0,872.1L582.0,871.8L612.0,872.7L624.0,872.9L636.0,872.4L648.0,872.2L684.0,872.7L720.0,872.7L744.0,873.1L756.0,873.2L780.0,872.9L804.0,873.2L840.0,873.1L864.0,873.3L912.0,873.2L936.0,873.5L960.0,873.4L996.0,873.7L1020.0,873.4L1056.0,873.5L1080.0,873.3L1152.0,873.4L1176.0,873.6L1212.0,873.4L1236.0,873.6L1260.0,873.4L1308.0,873.6L1332.0,873.4L1365.4,873.7"/>
<path d="M50.8,452.4L51.7,417.9L53.5,383.8L56.2,311.3L57.7,280.0L60.7,241.1L63.1,214.4L65.2,197.2L66.1,194.9L66.4,194.9L66.7,195.3L67.3,196.9L67.6,198.6L69.7,216.9L71.8,238.2L73.9,262.7L79.6,348.0L85.3,441.8L92.5,530.2L99.7,601.5L103.9,639.6L106.0,654.0L108.7,669.9L110.8,679.3L113.0,687.0L116.0,694.8L120.0,702.9L125.0,710.3L132.0,721.3L136.0,728.1L141.0,738.2L150.0,757.5L161.0,782.3L162.0,784.0L164.0,786.1L166.0,787.5L168.0,788.5L175.0,791.0L178.0,792.4L187.0,797.9L191.0,799.9L195.0,801.3L202.0,802.7L204.0,803.2L206.0,804.1L210.0,806.8L220.0,815.2L222.0,816.7L226.0,818.9L230.0,820.1L232.0,820.4L238.0,820.3L244.0,821.3L248.0,822.1L250.0,823.1L262.0,830.2L270.0,834.7L280.0,841.4L284.0,844.5L290.0,849.6L292.0,851.0L296.0,853.2L298.0,854.0L300.0,854.4L304.0,854.8L318.0,855.6L326.0,856.9L330.0,857.3L334.0,857.0L342.0,855.8L346.0,855.8L350.0,856.4L360.0,859.1L362.0,859.5L366.0,859.8L376.0,859.6L380.0,860.1L384.0,861.0L392.0,863.4L396.0,864.2L400.0,864.4L408.0,864.3L412.0,864.5L416.0,865.1L426.0,867.4L432.0,868.1L446.0,868.1L450.0,868.4L460.0,869.6L466.0,869.9L482.0,869.6L498.0,870.3L514.0,869.7L534.0,870.7L548.0,870.5L566.0,871.5L584.0,871.5L600.0,872.1L612.0,872.0L636.0,872.5L648.0,872.5L672.0,872.9L684.0,872.7L696.0,873.0L720.0,873.0L732.0,873.3L768.0,873.6L816.0,873.2L876.0,873.5L924.0,873.3L972.0,873.5L1056.0,873.3L1104.0,873.6L1164.0,873.5L1212.0,873.8L1296.0,873.5L1344.0,873.7L1365.4,873.6"/>
<path d="M50.8,448.2L51.7,411.3L53.8,359.6L55.9,296.5L57.1,270.2L60.1,228.6L62.2,203.3L64.0,186.5L64.6,183.5L65.2,182.3L65.5,182.3L66.1,183.6L66.7,186.6L67.9,197.5L70.6,225.7L73.0,253.7L79.0,342.5L84.4,430.8L90.7,510.3L92.2,527.3L100.6,613.2L103.6,640.2L106.0,656.7L108.4,670.7L110.8,681.3L113.0,688.3L116.0,695.6L120.0,703.0L125.0,709.3L130.0,718.3L134.0,726.2L141.0,741.0L155.0,767.2L161.0,780.4L162.0,782.1L164.0,784.8L168.0,788.8L170.0,790.4L172.0,791.7L174.0,792.6L177.0,793.6L182.0,794.4L191.0,794.5L194.0,795.1L196.0,795.9L200.0,797.8L204.0,800.1L212.0,806.4L220.0,812.3L224.0,814.8L228.0,817.0L232.0,818.8L240.0,821.3L246.0,822.5L254.0,823.4L258.0,824.7L260.0,825.5L266.0,828.5L268.0,829.7L270.0,831.1L276.0,835.8L280.0,838.3L286.0,841.5L298.0,848.4L306.0,851.8L310.0,852.7L312.0,852.7L322.0,851.4L324.0,851.3L326.0,851.5L334.0,853.1L350.0,856.6L362.0,858.8L372.0,860.2L376.0,860.5L380.0,860.6L394.0,859.7L400.0,860.0L406.0,860.8L416.0,862.9L428.0,864.2L438.0,865.7L454.0,867.1L472.0,868.4L478.0,869.1L486.0,869.3L506.0,868.5L526.0,868.5L532.0,868.8L546.0,870.1L552.0,870.6L592.0,872.0L612.0,872.4L636.0,872.0L708.0,872.7L720.0,873.0L792.0,873.2L840.0,873.1L984.0,873.4L1140.0,873.4L1164.0,873.6L1272.0,873.4L1365.4,873.5"/>
<path d="M50.8,448.3L51.7,411.5L53.8,360.0L55.9,296.7L57.1,270.2L60.1,227.9L62.2,202.0L64.0,184.7L64.9,181.4L65.2,181.0L65.5,181.3L66.1,182.8L66.4,184.2L67.9,197.9L70.9,230.4L73.0,256.1L78.7,342.9L84.1,432.9L91.3,523.5L98.5,597.9L102.4,634.9L104.5,650.1L107.2,666.7L109.6,677.8L111.7,685.0L115.0,693.1L119.0,700.6L120.0,702.3L121.0,703.3L124.0,705.1L125.0,706.2L129.0,713.2L145.0,746.5L155.0,765.9L161.0,779.0L163.0,781.8L166.0,784.9L169.0,787.2L171.0,788.5L176.0,790.7L183.0,792.9L190.0,794.4L195.0,795.7L197.0,796.4L200.0,797.9L204.0,800.2L206.0,801.6L212.0,806.4L220.0,812.3L224.0,814.8L230.0,817.9L232.0,818.8L236.0,819.9L246.0,821.7L252.0,822.9L256.0,824.0L260.0,825.6L266.0,828.7L274.0,834.3L278.0,836.8L286.0,841.1L290.0,843.5L294.0,845.6L298.0,847.4L304.0,849.0L308.0,849.7L312.0,849.8L320.0,849.3L324.0,849.5L332.0,851.1L344.0,852.3L354.0,853.7L364.0,856.0L372.0,857.4L404.0,860.7L420.0,863.4L430.0,864.7L440.0,865.9L454.0,867.1L474.0,868.6L480.0,868.8L496.0,868.5L510.0,868.0L528.0,868.0L574.0,871.0L612.0,872.2L636.0,872.2L732.0,872.9L852.0,873.2L1212.0,873.4L1365.4,873.4"/>
<path d="M50.8,456.3L51.4,430.0L53.8,388.9L56.5,319.9L58.3,284.7L61.3,248.7L64.0,221.9L65.8,207.8L66.7,205.0L67.0,204.7L67.6,205.3L68.2,207.1L68.5,209.2L70.6,226.3L73.0,249.7L74.8,270.2L80.5,352.3L85.9,438.8L92.2,516.9L93.7,533.5L102.4,621.4L105.1,645.1L107.8,663.4L109.9,675.3L112.0,684.8L113.0,688.5L115.0,694.7L117.0,699.9L120.0,706.8L124.0,717.5L125.0,719.7L129.0,726.8L135.0,735.7L140.0,744.7L148.0,757.8L151.0,763.0L156.0,773.3L162.0,788.1L164.0,791.4L166.0,794.1L169.0,797.5L173.0,801.4L175.0,803.0L178.0,805.1L181.0,806.7L184.0,808.1L188.0,809.1L200.0,810.6L204.0,811.7L206.0,812.6L216.0,818.7L232.0,829.8L234.0,830.9L238.0,832.7L242.0,834.0L246.0,835.0L248.0,835.2L256.0,835.5L258.0,835.7L264.0,837.0L268.0,838.3L284.0,846.8L294.0,853.6L298.0,856.1L302.0,858.0L306.0,859.4L310.0,860.2L312.0,860.2L316.0,859.7L322.0,858.4L326.0,857.8L332.0,857.4L338.0,857.5L342.0,858.0L346.0,858.9L352.0,861.0L362.0,865.1L368.0,866.7L372.0,867.3L378.0,867.5L394.0,866.2L398.0,866.0L402.0,866.0L408.0,866.8L424.0,870.2L432.0,871.1L440.0,871.3L456.0,870.8L464.0,870.8L482.0,872.1L490.0,872.4L498.0,872.2L514.0,870.7L526.0,870.0L532.0,870.2L550.0,872.1L556.0,872.5L586.0,872.7L612.0,873.6L624.0,873.5L648.0,873.0L684.0,873.6L708.0,873.3L744.0,873.7L780.0,873.5L804.0,873.8L840.0,873.6L864.0,873.9L900.0,873.6L924.0,873.8L960.0,873.6L996.0,873.8L1020.0,873.6L1056.0,873.8L1080.0,873.7L1116.0,873.8L1152.0,873.7L1176.0,873.9L1212.0,873.8L1308.0,873.9L1332.0,873.7L1365.4,873.9"/>
<path d="M50.8,454.2L51.4,427.3L53.8,359.2L55.0,318.8L56.5,282.6L59.2,243.9L61.3,218.6L63.1,202.7L63.4,201.5L64.0,200.2L64.3,200.1L64.6,200.6L65.2,202.1L65.5,203.7L67.6,221.6L69.7,242.3L71.8,266.2L77.5,349.6L82.9,437.9L89.2,517.7L90.7,534.6L97.6,604.8L100.3,630.9L101.8,643.5L103.9,657.9L106.6,673.6L109.0,684.1L111.7,692.8L114.0,698.6L120.0,711.4L125.0,722.8L128.0,727.9L133.0,735.3L138.0,743.9L147.0,758.7L150.0,764.4L153.0,770.9L160.0,788.6L161.0,790.7L164.0,795.1L167.0,798.0L169.0,799.6L171.0,800.8L175.0,802.6L186.0,806.1L202.0,810.5L206.0,812.1L210.0,814.5L214.0,817.2L222.0,823.6L226.0,826.5L230.0,828.9L232.0,829.8L234.0,830.4L238.0,830.7L250.0,830.5L254.0,830.7L258.0,831.6L266.0,834.8L282.0,843.3L286.0,845.8L294.0,851.6L298.0,853.8L300.0,854.5L304.0,855.4L308.0,855.8L312.0,855.4L320.0,853.9L324.0,853.9L332.0,855.1L342.0,855.8L346.0,856.3L352.0,857.7L362.0,861.0L368.0,862.0L372.0,862.1L382.0,861.6L388.0,861.8L392.0,862.2L408.0,864.7L426.0,868.1L432.0,869.0L438.0,869.4L448.0,869.3L454.0,869.5L470.0,871.0L478.0,871.4L496.0,871.3L514.0,870.2L522.0,870.1L528.0,870.4L538.0,871.4L546.0,871.9L566.0,872.5L584.0,872.7L600.0,873.3L612.0,873.4L624.0,873.1L648.0,873.0L672.0,873.4L696.0,873.1L744.0,873.3L756.0,873.2L804.0,873.5L828.0,873.3L912.0,873.7L1044.0,873.8L1200.0,873.6L1365.4,873.8"/>
<path d="M50.8,455.9L51.4,429.4L53.8,388.5L56.8,312.3L58.3,283.6L61.3,247.3L64.0,220.2L65.8,206.0L66.7,203.3L67.0,203.0L67.6,203.6L68.2,205.5L68.5,207.5L70.6,225.1L73.0,249.2L74.8,270.0L80.5,353.2L85.9,440.5L93.4,532.3L100.6,604.4L104.8,642.8L106.9,657.2L109.6,673.0L112.0,683.7L114.0,690.6L117.0,698.4L120.0,704.9L126.0,719.0L130.0,727.2L135.0,736.6L141.0,749.6L149.0,764.3L152.0,770.3L156.0,779.9L162.0,795.8L164.0,798.9L166.0,801.1L168.0,802.9L170.0,804.2L174.0,806.2L177.0,807.2L192.0,810.9L196.0,812.4L200.0,814.1L204.0,816.1L212.0,821.5L220.0,826.5L224.0,828.7L230.0,831.5L234.0,832.8L250.0,835.3L254.0,836.2L256.0,836.9L258.0,837.8L262.0,840.2L266.0,842.8L272.0,847.1L276.0,849.6L282.0,852.7L290.0,856.6L296.0,858.9L300.0,859.9L304.0,860.4L308.0,860.6L312.0,860.4L318.0,859.4L322.0,859.0L326.0,859.1L344.0,860.4L354.0,861.8L362.0,863.6L372.0,865.3L396.0,867.7L402.0,868.2L426.0,868.6L478.0,871.8L528.0,871.6L556.0,872.1L580.0,873.1L600.0,873.7L684.0,873.6L720.0,873.8L804.0,873.5L840.0,873.8L924.0,873.6L960.0,873.8L1068.0,873.9L1248.0,873.8L1332.0,873.9L1365.4,873.8"/>
<path d="M50.8,454.0L51.4,427.1L53.8,366.6L55.6,311.7L56.8,284.5L59.5,247.5L61.6,223.1L63.7,205.4L64.3,203.0L64.9,202.2L65.2,202.3L65.8,203.5L66.4,206.2L67.9,218.8L70.3,241.6L72.7,268.3L78.7,355.0L84.1,441.6L90.4,519.4L91.9,535.9L99.1,606.9L103.0,641.7L105.1,655.8L107.8,671.2L109.9,680.3L112.0,687.4L114.0,692.6L116.0,696.9L120.0,704.4L125.0,712.3L134.0,730.6L140.0,743.7L151.0,764.8L155.0,774.0L161.0,789.8L163.0,793.4L164.0,794.8L166.0,797.0L169.0,799.3L172.0,800.8L175.0,801.7L183.0,803.4L186.0,804.3L189.0,805.6L192.0,807.2L200.0,812.2L212.0,819.2L222.0,823.7L228.0,826.0L232.0,827.1L234.0,827.3L238.0,827.2L244.0,826.7L248.0,826.8L252.0,827.4L256.0,828.9L260.0,831.5L272.0,841.5L276.0,844.3L286.0,848.9L296.0,854.0L300.0,855.5L304.0,856.3L308.0,856.7L312.0,856.4L318.0,855.4L322.0,855.3L324.0,855.5L332.0,857.2L336.0,857.7L340.0,857.8L352.0,857.3L356.0,857.5L360.0,858.1L372.0,860.8L386.0,863.2L400.0,867.1L406.0,868.2L410.0,868.4L422.0,868.3L426.0,868.5L440.0,869.9L456.0,870.3L472.0,871.2L478.0,871.1L488.0,870.5L494.0,870.4L512.0,871.1L528.0,871.3L538.0,871.8L558.0,871.5L580.0,872.6L612.0,873.0L624.0,873.0L648.0,873.5L696.0,873.1L708.0,873.3L732.0,873.2L768.0,873.6L780.0,873.6L804.0,873.3L888.0,873.8L936.0,873.5L960.0,873.7L1020.0,873.7L1056.0,873.6L1092.0,873.8L1176.0,873.5L1212.0,873.8L1296.0,873.7L1332.0,873.9L1365.4,873.7"/>
</g>
<g clip-path="url(#panel)">
<path d="M51.00,307.00L51.54,282.19L52.68,239.78L54.17,170.96L54.68,154.96L55.63,132.57L57.73,93.40L58.42,83.02L59.07,75.04L60.00,67.10L60.27,65.52L60.64,63.96L60.87,63.20L61.39,62.60L61.93,63.18L62.15,63.94L62.67,66.29L63.40,71.84L63.94,77.42L64.49,84.60L66.22,112.56L67.20,131.75L68.76,158.12L70.08,185.30L72.85,251.68L75.18,299.65L77.34,346.82L81.22,417.16L82.66,439.52L83.69,452.29L86.32,482.59L88.72,512.91L89.89,526.47L91.19,540.02L98.65,614.08L101.26,637.95L104.75,665.75L106.58,679.23L108.53,691.08L111.73,708.40L113.80,718.60L116.03,727.94L118.58,737.20L120.22,742.56L121.96,747.89L123.56,752.41L125.27,756.90L127.13,761.34L128.79,765.00L130.61,768.58L132.23,771.35L134.52,774.61L136.63,777.02L137.80,778.13L139.07,779.16L140.43,780.05L141.14,780.42L142.64,780.93L144.22,781.14L145.84,781.11L150.63,780.61L152.24,780.63L153.82,780.89L155.32,781.44L156.72,782.24L158.02,783.19L159.22,784.25L160.92,785.95L162.51,787.75L163.50,789.01L164.88,790.97L166.96,794.38L172.37,804.23L176.01,810.44L179.48,815.82L181.32,818.44L183.25,821.00L185.27,823.49L186.86,825.29L189.09,827.59L190.86,829.21L192.74,830.72L194.05,831.65L196.13,832.88L197.59,833.58L199.09,834.15L200.63,834.57L203.01,834.88L204.62,834.90L206.23,834.80L211.00,834.10L213.39,833.90L215.80,834.06L217.38,834.41L218.88,834.96L220.96,836.13L228.02,841.45L231.27,843.80L233.99,845.53L236.14,846.56L238.43,847.27L240.80,847.71L243.21,847.96L250.39,848.45L252.77,848.80L254.34,849.12L256.67,849.73L258.19,850.23L264.13,852.63L267.16,853.67L270.27,854.45L274.22,855.12L277.41,855.43L279.81,855.50L282.21,855.43L284.61,855.21L287.00,854.88L289.36,854.43L297.94,852.38L299.52,852.16L301.12,852.11L303.50,852.41L305.06,852.83L306.58,853.38L308.77,854.40L313.73,857.00L315.97,857.91L318.31,858.56L320.70,858.88L323.09,858.81L325.46,858.39L327.78,857.72L333.82,855.52L336.12,854.83L338.49,854.37L340.90,854.20L343.29,854.42L345.61,855.01L347.87,855.87L353.72,858.53L355.96,859.39L357.49,859.84L359.06,860.20L361.45,860.52L363.06,860.60L365.46,860.51L371.83,859.75L374.22,859.58L377.41,859.65L383.81,860.09L387.81,860.07L391.80,859.70L396.56,858.92L398.94,858.60L400.53,858.50L402.13,858.53L404.52,858.81L406.88,859.34L409.17,860.06L415.13,862.40L418.17,863.45L422.04,864.47L425.19,865.02L429.18,865.39L433.99,865.52L438.79,865.40L447.59,864.80L449.99,864.77L452.37,864.91L454.75,865.21L457.91,865.78L468.88,868.16L475.15,869.44L479.09,870.14L483.05,870.73L487.03,871.18L491.82,871.56L511.81,872.55L515.81,872.60L519.80,872.47L535.00,871.59L538.98,871.25L542.15,870.80L545.29,870.18L553.04,868.16L556.17,867.46L560.14,866.92L563.35,866.80L566.55,867.00L569.72,867.50L572.82,868.29L578.17,869.96L580.49,870.60L583.61,871.32L587.56,872.01L591.52,872.53L596.29,872.98L601.08,873.26L606.72,873.41L609.14,873.39L611.55,873.25L613.13,873.05L614.68,872.73L617.70,871.78L624.38,868.96L627.45,867.90L630.60,867.18L632.19,866.97L633.77,866.90L635.36,866.96L637.73,867.26L646.39,869.15L649.53,869.73L651.90,870.07L655.08,870.38L661.48,870.76L664.67,871.03L676.57,872.69L680.55,873.14L683.74,873.38L686.94,873.47L691.74,873.41L700.54,873.03L707.73,872.59L718.12,871.76L723.72,871.56L726.11,871.61L729.30,871.83L740.45,873.04L743.64,873.23L746.84,873.32L752.45,873.29L768.47,872.93L778.07,872.89L790.07,873.08L807.68,873.65L813.28,873.69L819.68,873.47L831.66,872.37L834.05,872.24L836.44,872.20L841.23,872.45L850.81,873.36L856.40,873.61L871.61,873.75L901.23,873.85L939.65,873.84L1067.72,873.60L1177.38,873.72L1190.19,873.59L1200.59,873.35L1206.99,873.06L1217.38,872.33L1222.17,872.20L1226.96,872.36L1239.76,873.21L1252.56,873.54L1274.17,873.72L1317.39,873.68L1331.80,873.59L1343.81,873.39L1353.41,873.10L1365.40,872.55" fill="none" stroke="#011f4b" stroke-width="5.69" stroke-linejoin="round" stroke-linecap="butt"/>
</g>
<text y="40.4" font-size="35.0" fill="#000000"><tspan x="51.6">Posterior</tspan><tspan x="202.7">Predictive</tspan><tspan x="366.8">Check:</tspan><tspan x="486.8">Partial</tspan><tspan x="599.3">Pooling</tspan><tspan x="728.5">Model</tspan></text>
<g font-size="23.47" fill="#4d4d4d"><text x="51.1" y="903.6" text-anchor="middle">0</text><text x="276.5" y="903.6" text-anchor="middle">100</text><text x="501.9" y="903.6" text-anchor="middle">200</text><text x="727.4" y="903.6" text-anchor="middle">300</text><text x="952.8" y="903.6" text-anchor="middle">400</text><text x="1178.2" y="903.6" text-anchor="middle">500</text></g>
<text x="708.3" y="938.4" font-size="29.33" fill="#000000" text-anchor="middle" letter-spacing="-0.07">Number of Fatalities</text>
<text transform="translate(36.0,468.4) rotate(-90)" font-size="29.33" fill="#000000" text-anchor="middle">Density</text>
<line x1="1413.7" x2="1450.6" y1="467.3" y2="467.3" stroke="#011f4b" stroke-width="5.69" stroke-linecap="round"/>
<line x1="1413.7" x2="1450.6" y1="513.2" y2="513.2" stroke="#b3cde0" stroke-opacity="0.7" stroke-width="1.42"/>
<text x="1471.2" y="471.0" font-size="23.47" font-style="italic" fill="#000000">y</text>
<text x="1471.2" y="515.5" font-size="23.47" font-style="italic" fill="#000000">y</text>
<text x="1483.7" y="519.7" font-size="16.43" fill="#000000">rep</text>
</svg>
</body>
</html>
